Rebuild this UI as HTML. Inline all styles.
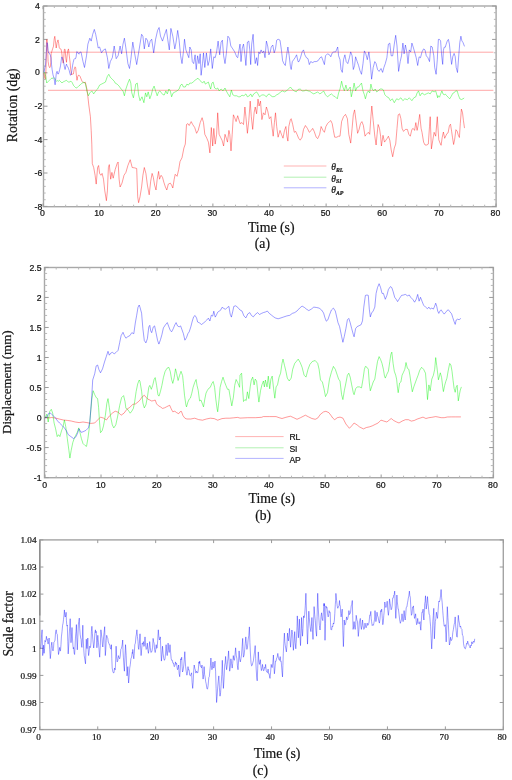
<!DOCTYPE html>
<html><head><meta charset="utf-8"><style>
html,body{margin:0;padding:0;background:#fff;}
body{width:512px;height:780px;overflow:hidden;}
svg{display:block;will-change:transform;}
text{fill:#141414;stroke:#141414;stroke-width:0.22px;}
</style></head><body>
<svg width="512" height="780" viewBox="0 0 512 780">
<rect x="43.50" y="6.00" width="452.60" height="200.70" fill="none" stroke="#a8a8a8" stroke-width="1.40"/>
<line x1="43.00" y1="206.70" x2="43.00" y2="203.50" stroke="#9a9a9a" stroke-width="1.00"/>
<line x1="43.00" y1="6.00" x2="43.00" y2="9.20" stroke="#9a9a9a" stroke-width="1.00"/>
<line x1="99.62" y1="206.70" x2="99.62" y2="203.50" stroke="#9a9a9a" stroke-width="1.00"/>
<line x1="99.62" y1="6.00" x2="99.62" y2="9.20" stroke="#9a9a9a" stroke-width="1.00"/>
<line x1="156.25" y1="206.70" x2="156.25" y2="203.50" stroke="#9a9a9a" stroke-width="1.00"/>
<line x1="156.25" y1="6.00" x2="156.25" y2="9.20" stroke="#9a9a9a" stroke-width="1.00"/>
<line x1="212.88" y1="206.70" x2="212.88" y2="203.50" stroke="#9a9a9a" stroke-width="1.00"/>
<line x1="212.88" y1="6.00" x2="212.88" y2="9.20" stroke="#9a9a9a" stroke-width="1.00"/>
<line x1="269.50" y1="206.70" x2="269.50" y2="203.50" stroke="#9a9a9a" stroke-width="1.00"/>
<line x1="269.50" y1="6.00" x2="269.50" y2="9.20" stroke="#9a9a9a" stroke-width="1.00"/>
<line x1="326.12" y1="206.70" x2="326.12" y2="203.50" stroke="#9a9a9a" stroke-width="1.00"/>
<line x1="326.12" y1="6.00" x2="326.12" y2="9.20" stroke="#9a9a9a" stroke-width="1.00"/>
<line x1="382.75" y1="206.70" x2="382.75" y2="203.50" stroke="#9a9a9a" stroke-width="1.00"/>
<line x1="382.75" y1="6.00" x2="382.75" y2="9.20" stroke="#9a9a9a" stroke-width="1.00"/>
<line x1="439.38" y1="206.70" x2="439.38" y2="203.50" stroke="#9a9a9a" stroke-width="1.00"/>
<line x1="439.38" y1="6.00" x2="439.38" y2="9.20" stroke="#9a9a9a" stroke-width="1.00"/>
<line x1="496.00" y1="206.70" x2="496.00" y2="203.50" stroke="#9a9a9a" stroke-width="1.00"/>
<line x1="496.00" y1="6.00" x2="496.00" y2="9.20" stroke="#9a9a9a" stroke-width="1.00"/>
<line x1="54.33" y1="206.70" x2="54.33" y2="204.70" stroke="#b8b8b8" stroke-width="1.00"/>
<line x1="54.33" y1="6.00" x2="54.33" y2="8.00" stroke="#b8b8b8" stroke-width="1.00"/>
<line x1="65.65" y1="206.70" x2="65.65" y2="204.70" stroke="#b8b8b8" stroke-width="1.00"/>
<line x1="65.65" y1="6.00" x2="65.65" y2="8.00" stroke="#b8b8b8" stroke-width="1.00"/>
<line x1="76.97" y1="206.70" x2="76.97" y2="204.70" stroke="#b8b8b8" stroke-width="1.00"/>
<line x1="76.97" y1="6.00" x2="76.97" y2="8.00" stroke="#b8b8b8" stroke-width="1.00"/>
<line x1="88.30" y1="206.70" x2="88.30" y2="204.70" stroke="#b8b8b8" stroke-width="1.00"/>
<line x1="88.30" y1="6.00" x2="88.30" y2="8.00" stroke="#b8b8b8" stroke-width="1.00"/>
<line x1="110.95" y1="206.70" x2="110.95" y2="204.70" stroke="#b8b8b8" stroke-width="1.00"/>
<line x1="110.95" y1="6.00" x2="110.95" y2="8.00" stroke="#b8b8b8" stroke-width="1.00"/>
<line x1="122.28" y1="206.70" x2="122.28" y2="204.70" stroke="#b8b8b8" stroke-width="1.00"/>
<line x1="122.28" y1="6.00" x2="122.28" y2="8.00" stroke="#b8b8b8" stroke-width="1.00"/>
<line x1="133.60" y1="206.70" x2="133.60" y2="204.70" stroke="#b8b8b8" stroke-width="1.00"/>
<line x1="133.60" y1="6.00" x2="133.60" y2="8.00" stroke="#b8b8b8" stroke-width="1.00"/>
<line x1="144.93" y1="206.70" x2="144.93" y2="204.70" stroke="#b8b8b8" stroke-width="1.00"/>
<line x1="144.93" y1="6.00" x2="144.93" y2="8.00" stroke="#b8b8b8" stroke-width="1.00"/>
<line x1="167.57" y1="206.70" x2="167.57" y2="204.70" stroke="#b8b8b8" stroke-width="1.00"/>
<line x1="167.57" y1="6.00" x2="167.57" y2="8.00" stroke="#b8b8b8" stroke-width="1.00"/>
<line x1="178.90" y1="206.70" x2="178.90" y2="204.70" stroke="#b8b8b8" stroke-width="1.00"/>
<line x1="178.90" y1="6.00" x2="178.90" y2="8.00" stroke="#b8b8b8" stroke-width="1.00"/>
<line x1="190.22" y1="206.70" x2="190.22" y2="204.70" stroke="#b8b8b8" stroke-width="1.00"/>
<line x1="190.22" y1="6.00" x2="190.22" y2="8.00" stroke="#b8b8b8" stroke-width="1.00"/>
<line x1="201.55" y1="206.70" x2="201.55" y2="204.70" stroke="#b8b8b8" stroke-width="1.00"/>
<line x1="201.55" y1="6.00" x2="201.55" y2="8.00" stroke="#b8b8b8" stroke-width="1.00"/>
<line x1="224.20" y1="206.70" x2="224.20" y2="204.70" stroke="#b8b8b8" stroke-width="1.00"/>
<line x1="224.20" y1="6.00" x2="224.20" y2="8.00" stroke="#b8b8b8" stroke-width="1.00"/>
<line x1="235.53" y1="206.70" x2="235.53" y2="204.70" stroke="#b8b8b8" stroke-width="1.00"/>
<line x1="235.53" y1="6.00" x2="235.53" y2="8.00" stroke="#b8b8b8" stroke-width="1.00"/>
<line x1="246.85" y1="206.70" x2="246.85" y2="204.70" stroke="#b8b8b8" stroke-width="1.00"/>
<line x1="246.85" y1="6.00" x2="246.85" y2="8.00" stroke="#b8b8b8" stroke-width="1.00"/>
<line x1="258.18" y1="206.70" x2="258.18" y2="204.70" stroke="#b8b8b8" stroke-width="1.00"/>
<line x1="258.18" y1="6.00" x2="258.18" y2="8.00" stroke="#b8b8b8" stroke-width="1.00"/>
<line x1="280.82" y1="206.70" x2="280.82" y2="204.70" stroke="#b8b8b8" stroke-width="1.00"/>
<line x1="280.82" y1="6.00" x2="280.82" y2="8.00" stroke="#b8b8b8" stroke-width="1.00"/>
<line x1="292.15" y1="206.70" x2="292.15" y2="204.70" stroke="#b8b8b8" stroke-width="1.00"/>
<line x1="292.15" y1="6.00" x2="292.15" y2="8.00" stroke="#b8b8b8" stroke-width="1.00"/>
<line x1="303.48" y1="206.70" x2="303.48" y2="204.70" stroke="#b8b8b8" stroke-width="1.00"/>
<line x1="303.48" y1="6.00" x2="303.48" y2="8.00" stroke="#b8b8b8" stroke-width="1.00"/>
<line x1="314.80" y1="206.70" x2="314.80" y2="204.70" stroke="#b8b8b8" stroke-width="1.00"/>
<line x1="314.80" y1="6.00" x2="314.80" y2="8.00" stroke="#b8b8b8" stroke-width="1.00"/>
<line x1="337.45" y1="206.70" x2="337.45" y2="204.70" stroke="#b8b8b8" stroke-width="1.00"/>
<line x1="337.45" y1="6.00" x2="337.45" y2="8.00" stroke="#b8b8b8" stroke-width="1.00"/>
<line x1="348.77" y1="206.70" x2="348.77" y2="204.70" stroke="#b8b8b8" stroke-width="1.00"/>
<line x1="348.77" y1="6.00" x2="348.77" y2="8.00" stroke="#b8b8b8" stroke-width="1.00"/>
<line x1="360.10" y1="206.70" x2="360.10" y2="204.70" stroke="#b8b8b8" stroke-width="1.00"/>
<line x1="360.10" y1="6.00" x2="360.10" y2="8.00" stroke="#b8b8b8" stroke-width="1.00"/>
<line x1="371.43" y1="206.70" x2="371.43" y2="204.70" stroke="#b8b8b8" stroke-width="1.00"/>
<line x1="371.43" y1="6.00" x2="371.43" y2="8.00" stroke="#b8b8b8" stroke-width="1.00"/>
<line x1="394.07" y1="206.70" x2="394.07" y2="204.70" stroke="#b8b8b8" stroke-width="1.00"/>
<line x1="394.07" y1="6.00" x2="394.07" y2="8.00" stroke="#b8b8b8" stroke-width="1.00"/>
<line x1="405.40" y1="206.70" x2="405.40" y2="204.70" stroke="#b8b8b8" stroke-width="1.00"/>
<line x1="405.40" y1="6.00" x2="405.40" y2="8.00" stroke="#b8b8b8" stroke-width="1.00"/>
<line x1="416.73" y1="206.70" x2="416.73" y2="204.70" stroke="#b8b8b8" stroke-width="1.00"/>
<line x1="416.73" y1="6.00" x2="416.73" y2="8.00" stroke="#b8b8b8" stroke-width="1.00"/>
<line x1="428.05" y1="206.70" x2="428.05" y2="204.70" stroke="#b8b8b8" stroke-width="1.00"/>
<line x1="428.05" y1="6.00" x2="428.05" y2="8.00" stroke="#b8b8b8" stroke-width="1.00"/>
<line x1="450.70" y1="206.70" x2="450.70" y2="204.70" stroke="#b8b8b8" stroke-width="1.00"/>
<line x1="450.70" y1="6.00" x2="450.70" y2="8.00" stroke="#b8b8b8" stroke-width="1.00"/>
<line x1="462.02" y1="206.70" x2="462.02" y2="204.70" stroke="#b8b8b8" stroke-width="1.00"/>
<line x1="462.02" y1="6.00" x2="462.02" y2="8.00" stroke="#b8b8b8" stroke-width="1.00"/>
<line x1="473.35" y1="206.70" x2="473.35" y2="204.70" stroke="#b8b8b8" stroke-width="1.00"/>
<line x1="473.35" y1="6.00" x2="473.35" y2="8.00" stroke="#b8b8b8" stroke-width="1.00"/>
<line x1="484.68" y1="206.70" x2="484.68" y2="204.70" stroke="#b8b8b8" stroke-width="1.00"/>
<line x1="484.68" y1="6.00" x2="484.68" y2="8.00" stroke="#b8b8b8" stroke-width="1.00"/>
<line x1="43.50" y1="6.00" x2="47.50" y2="6.00" stroke="#9a9a9a" stroke-width="1.00"/>
<line x1="496.10" y1="6.00" x2="492.10" y2="6.00" stroke="#9a9a9a" stroke-width="1.00"/>
<line x1="43.50" y1="39.40" x2="47.50" y2="39.40" stroke="#9a9a9a" stroke-width="1.00"/>
<line x1="496.10" y1="39.40" x2="492.10" y2="39.40" stroke="#9a9a9a" stroke-width="1.00"/>
<line x1="43.50" y1="72.80" x2="47.50" y2="72.80" stroke="#9a9a9a" stroke-width="1.00"/>
<line x1="496.10" y1="72.80" x2="492.10" y2="72.80" stroke="#9a9a9a" stroke-width="1.00"/>
<line x1="43.50" y1="106.20" x2="47.50" y2="106.20" stroke="#9a9a9a" stroke-width="1.00"/>
<line x1="496.10" y1="106.20" x2="492.10" y2="106.20" stroke="#9a9a9a" stroke-width="1.00"/>
<line x1="43.50" y1="139.60" x2="47.50" y2="139.60" stroke="#9a9a9a" stroke-width="1.00"/>
<line x1="496.10" y1="139.60" x2="492.10" y2="139.60" stroke="#9a9a9a" stroke-width="1.00"/>
<line x1="43.50" y1="173.00" x2="47.50" y2="173.00" stroke="#9a9a9a" stroke-width="1.00"/>
<line x1="496.10" y1="173.00" x2="492.10" y2="173.00" stroke="#9a9a9a" stroke-width="1.00"/>
<line x1="43.50" y1="206.40" x2="47.50" y2="206.40" stroke="#9a9a9a" stroke-width="1.00"/>
<line x1="496.10" y1="206.40" x2="492.10" y2="206.40" stroke="#9a9a9a" stroke-width="1.00"/>
<line x1="43.50" y1="12.68" x2="45.70" y2="12.68" stroke="#b8b8b8" stroke-width="1.00"/>
<line x1="496.10" y1="12.68" x2="493.90" y2="12.68" stroke="#b8b8b8" stroke-width="1.00"/>
<line x1="43.50" y1="19.36" x2="45.70" y2="19.36" stroke="#b8b8b8" stroke-width="1.00"/>
<line x1="496.10" y1="19.36" x2="493.90" y2="19.36" stroke="#b8b8b8" stroke-width="1.00"/>
<line x1="43.50" y1="26.04" x2="45.70" y2="26.04" stroke="#b8b8b8" stroke-width="1.00"/>
<line x1="496.10" y1="26.04" x2="493.90" y2="26.04" stroke="#b8b8b8" stroke-width="1.00"/>
<line x1="43.50" y1="32.72" x2="45.70" y2="32.72" stroke="#b8b8b8" stroke-width="1.00"/>
<line x1="496.10" y1="32.72" x2="493.90" y2="32.72" stroke="#b8b8b8" stroke-width="1.00"/>
<line x1="43.50" y1="46.08" x2="45.70" y2="46.08" stroke="#b8b8b8" stroke-width="1.00"/>
<line x1="496.10" y1="46.08" x2="493.90" y2="46.08" stroke="#b8b8b8" stroke-width="1.00"/>
<line x1="43.50" y1="52.76" x2="45.70" y2="52.76" stroke="#b8b8b8" stroke-width="1.00"/>
<line x1="496.10" y1="52.76" x2="493.90" y2="52.76" stroke="#b8b8b8" stroke-width="1.00"/>
<line x1="43.50" y1="59.44" x2="45.70" y2="59.44" stroke="#b8b8b8" stroke-width="1.00"/>
<line x1="496.10" y1="59.44" x2="493.90" y2="59.44" stroke="#b8b8b8" stroke-width="1.00"/>
<line x1="43.50" y1="66.12" x2="45.70" y2="66.12" stroke="#b8b8b8" stroke-width="1.00"/>
<line x1="496.10" y1="66.12" x2="493.90" y2="66.12" stroke="#b8b8b8" stroke-width="1.00"/>
<line x1="43.50" y1="79.48" x2="45.70" y2="79.48" stroke="#b8b8b8" stroke-width="1.00"/>
<line x1="496.10" y1="79.48" x2="493.90" y2="79.48" stroke="#b8b8b8" stroke-width="1.00"/>
<line x1="43.50" y1="86.16" x2="45.70" y2="86.16" stroke="#b8b8b8" stroke-width="1.00"/>
<line x1="496.10" y1="86.16" x2="493.90" y2="86.16" stroke="#b8b8b8" stroke-width="1.00"/>
<line x1="43.50" y1="92.84" x2="45.70" y2="92.84" stroke="#b8b8b8" stroke-width="1.00"/>
<line x1="496.10" y1="92.84" x2="493.90" y2="92.84" stroke="#b8b8b8" stroke-width="1.00"/>
<line x1="43.50" y1="99.52" x2="45.70" y2="99.52" stroke="#b8b8b8" stroke-width="1.00"/>
<line x1="496.10" y1="99.52" x2="493.90" y2="99.52" stroke="#b8b8b8" stroke-width="1.00"/>
<line x1="43.50" y1="112.88" x2="45.70" y2="112.88" stroke="#b8b8b8" stroke-width="1.00"/>
<line x1="496.10" y1="112.88" x2="493.90" y2="112.88" stroke="#b8b8b8" stroke-width="1.00"/>
<line x1="43.50" y1="119.56" x2="45.70" y2="119.56" stroke="#b8b8b8" stroke-width="1.00"/>
<line x1="496.10" y1="119.56" x2="493.90" y2="119.56" stroke="#b8b8b8" stroke-width="1.00"/>
<line x1="43.50" y1="126.24" x2="45.70" y2="126.24" stroke="#b8b8b8" stroke-width="1.00"/>
<line x1="496.10" y1="126.24" x2="493.90" y2="126.24" stroke="#b8b8b8" stroke-width="1.00"/>
<line x1="43.50" y1="132.92" x2="45.70" y2="132.92" stroke="#b8b8b8" stroke-width="1.00"/>
<line x1="496.10" y1="132.92" x2="493.90" y2="132.92" stroke="#b8b8b8" stroke-width="1.00"/>
<line x1="43.50" y1="146.28" x2="45.70" y2="146.28" stroke="#b8b8b8" stroke-width="1.00"/>
<line x1="496.10" y1="146.28" x2="493.90" y2="146.28" stroke="#b8b8b8" stroke-width="1.00"/>
<line x1="43.50" y1="152.96" x2="45.70" y2="152.96" stroke="#b8b8b8" stroke-width="1.00"/>
<line x1="496.10" y1="152.96" x2="493.90" y2="152.96" stroke="#b8b8b8" stroke-width="1.00"/>
<line x1="43.50" y1="159.64" x2="45.70" y2="159.64" stroke="#b8b8b8" stroke-width="1.00"/>
<line x1="496.10" y1="159.64" x2="493.90" y2="159.64" stroke="#b8b8b8" stroke-width="1.00"/>
<line x1="43.50" y1="166.32" x2="45.70" y2="166.32" stroke="#b8b8b8" stroke-width="1.00"/>
<line x1="496.10" y1="166.32" x2="493.90" y2="166.32" stroke="#b8b8b8" stroke-width="1.00"/>
<line x1="43.50" y1="179.68" x2="45.70" y2="179.68" stroke="#b8b8b8" stroke-width="1.00"/>
<line x1="496.10" y1="179.68" x2="493.90" y2="179.68" stroke="#b8b8b8" stroke-width="1.00"/>
<line x1="43.50" y1="186.36" x2="45.70" y2="186.36" stroke="#b8b8b8" stroke-width="1.00"/>
<line x1="496.10" y1="186.36" x2="493.90" y2="186.36" stroke="#b8b8b8" stroke-width="1.00"/>
<line x1="43.50" y1="193.04" x2="45.70" y2="193.04" stroke="#b8b8b8" stroke-width="1.00"/>
<line x1="496.10" y1="193.04" x2="493.90" y2="193.04" stroke="#b8b8b8" stroke-width="1.00"/>
<line x1="43.50" y1="199.72" x2="45.70" y2="199.72" stroke="#b8b8b8" stroke-width="1.00"/>
<line x1="496.10" y1="199.72" x2="493.90" y2="199.72" stroke="#b8b8b8" stroke-width="1.00"/>
<polyline points="48.0,52.2 493.4,52.2" fill="none" stroke="#ff0000" stroke-width="1.00" stroke-opacity="0.35" stroke-linejoin="round" />
<polyline points="48.0,90.3 493.4,90.3" fill="none" stroke="#ff0000" stroke-width="1.00" stroke-opacity="0.35" stroke-linejoin="round" />
<polyline points="44.0,73.1 44.9,78.5 45.6,78.9 46.1,65.9 46.5,39.9 47.2,39.4 47.6,48.0 48.1,61.4 48.8,65.9 49.7,67.7 50.3,66.8 50.8,62.3 51.2,53.3 51.8,51.5 52.6,48.9 53.5,46.2 54.2,39.0 54.8,36.3 55.4,40.8 56.2,48.0 57.1,42.6 58.0,39.9 58.7,43.5 59.3,48.0 60.2,48.9 61.1,49.3 61.7,52.4 62.4,58.7 63.2,63.2 63.8,56.9 64.4,49.3 65.1,49.3 65.9,58.7 66.5,62.3 67.1,56.0 67.8,50.6 68.5,48.9 69.2,55.1 70.1,62.3 70.7,69.5 71.6,74.9 72.3,74.0 73.4,74.0 74.1,69.5 75.0,66.8 75.7,67.7 76.4,75.8 77.0,80.3 77.7,76.7 78.6,74.9 80.0,76.3 82.0,81.2 83.9,83.1 85.3,82.1 86.9,89.0 87.9,96.8 88.8,105.0 90.4,116.7 91.2,130.4 91.8,144.1 92.3,163.6 93.7,167.5 95.1,175.3 96.2,184.1 97.6,167.5 98.6,165.5 99.6,173.4 100.9,175.3 102.1,173.4 103.5,179.2 104.8,190.9 106.4,200.7 107.4,190.9 108.4,167.5 109.3,164.6 110.7,179.2 111.9,172.4 113.2,178.2 115.2,169.5 117.1,163.6 118.1,162.0 119.1,179.2 120.1,187.0 122.0,183.1 124.0,175.3 125.9,172.4 127.9,165.5 130.2,159.7 132.2,167.5 134.7,167.9 136.7,168.5 137.7,196.8 138.6,202.7 140.0,196.8 141.6,187.0 142.9,175.3 144.3,167.5 145.9,173.4 147.4,185.1 149.2,194.8 150.7,181.2 152.1,173.4 153.3,177.3 154.6,185.1 156.0,190.0 157.2,179.2 158.6,171.4 159.5,179.2 161.1,175.3 162.5,177.3 163.8,182.1 165.4,187.0 166.8,190.0 168.3,184.1 170.3,183.1 171.6,185.1 172.8,188.0 174.2,179.2 175.2,174.3 177.1,176.3 178.7,169.5 180.0,161.6 182.0,157.7 183.9,148.0 185.3,144.1 186.5,124.5 187.9,123.6 189.2,125.5 191.2,121.6 192.7,124.5 194.7,127.5 196.6,133.3 198.2,130.4 200.2,122.6 202.1,117.7 203.5,122.6 204.8,134.3 206.8,138.2 208.4,142.1 209.9,152.9 211.3,127.5 212.7,146.0 213.8,128.4 215.2,144.1 216.6,134.3 217.7,112.8 219.1,134.3 220.5,137.2 222.0,140.2 223.6,146.0 225.0,134.3 226.3,138.2 227.5,142.1 228.9,130.4 229.8,134.3 231.0,150.9 232.2,134.3 233.4,114.8 234.7,117.7 236.1,121.6 237.7,115.7 240.0,123.6 242.0,122.6 243.5,124.5 244.9,107.0 245.9,116.7 247.4,133.3 248.8,120.6 250.2,101.1 251.3,116.7 252.7,129.4 254.1,112.8 255.2,107.0 256.6,113.8 258.0,99.1 259.1,106.0 260.5,101.1 261.9,119.6 263.4,112.8 265.0,114.8 266.4,107.0 267.7,110.9 269.3,118.7 270.9,116.7 272.2,128.4 273.2,136.2 274.4,122.6 275.5,112.8 276.7,126.5 278.1,137.2 280.0,130.4 281.4,134.3 283.0,138.2 284.5,130.4 285.9,126.5 286.9,136.2 287.9,141.1 288.8,126.5 290.4,119.6 291.2,118.7 292.7,124.5 294.3,132.3 295.7,131.4 297.0,134.3 298.6,138.2 300.2,140.2 302.1,137.2 303.5,129.4 305.4,125.5 307.4,128.4 309.3,132.3 311.3,130.4 312.7,128.4 314.2,131.4 316.2,137.2 317.7,138.6 319.7,134.3 321.1,126.5 323.0,130.4 324.4,132.3 325.9,126.5 327.5,123.6 329.5,121.6 330.8,120.6 332.2,123.6 333.4,130.4 334.7,137.2 336.7,137.2 338.6,136.2 340.0,136.2 341.6,121.6 343.5,116.7 345.5,114.4 347.4,118.7 348.8,134.3 350.7,143.1 352.1,128.4 353.3,114.8 354.6,109.9 356.0,120.6 357.6,133.3 359.1,129.4 360.5,123.6 361.9,121.6 363.4,125.5 365.0,136.2 366.4,134.3 368.3,132.3 369.7,134.3 370.9,116.7 371.8,106.0 373.2,120.6 374.8,136.2 376.1,145.0 377.1,134.3 378.1,124.5 379.5,128.4 380.6,136.2 381.4,146.0 383.0,135.3 384.5,142.1 385.9,140.2 387.3,138.2 388.4,136.2 389.8,140.2 391.2,149.9 392.7,156.8 394.3,148.0 395.7,144.1 397.0,128.4 398.2,114.8 399.6,113.8 400.9,118.7 402.1,128.4 403.5,131.4 405.4,129.4 407.4,129.4 408.8,134.3 410.3,136.2 411.9,129.4 413.2,128.4 414.6,130.4 415.8,122.6 417.1,130.4 418.1,125.5 419.7,114.4 421.1,128.4 422.0,132.3 423.6,142.1 425.0,145.0 426.9,145.0 428.3,144.1 429.5,126.5 430.2,116.7 431.4,148.9 432.8,140.2 434.1,132.3 435.7,136.2 437.3,116.7 438.0,128.1 438.8,139.8 440.0,143.0 441.1,145.3 442.2,137.5 443.4,132.0 444.7,138.3 445.8,135.9 446.9,133.6 448.1,132.8 449.4,125.8 450.5,124.2 451.6,131.2 452.5,137.5 453.6,144.5 454.7,139.1 455.9,129.7 457.2,131.2 458.3,135.2 459.4,137.5 460.3,123.4 461.4,109.1 462.5,112.5 463.4,120.3 464.5,128.1" fill="none" stroke="#ff0000" stroke-width="1.00" stroke-opacity="0.40" stroke-linejoin="round" />
<polyline points="44.0,72.2 44.9,73.1 45.8,76.7 46.7,83.0 47.6,82.1 48.5,81.2 49.4,80.3 50.3,79.4 51.2,78.5 52.1,78.0 53.0,78.5 53.9,77.6 54.8,78.5 55.7,80.3 56.6,81.2 57.5,80.7 58.4,81.2 59.3,80.3 60.2,81.2 61.1,82.1 62.0,83.0 62.9,82.1 63.8,81.6 64.7,81.2 65.6,80.7 66.5,80.3 67.4,81.2 68.3,82.1 69.2,82.1 70.1,81.6 71.0,81.2 71.9,82.1 72.8,83.9 73.7,85.7 74.6,86.6 75.5,87.5 76.4,87.9 77.3,87.5 78.2,86.6 79.0,85.7 80.0,85.1 82.0,83.1 83.9,82.1 85.3,83.1 86.9,90.9 88.4,95.8 89.8,92.9 91.8,90.9 93.7,93.9 95.7,90.9 97.6,89.0 99.6,85.1 101.5,84.1 103.5,83.1 105.4,82.1 107.4,76.3 108.8,74.3 110.3,77.3 112.3,79.2 114.2,81.2 115.2,83.1 117.1,84.1 119.1,86.1 121.1,89.0 123.0,90.9 124.4,95.8 125.9,89.0 127.9,83.1 129.5,79.2 130.8,83.1 131.8,92.9 133.4,97.8 134.7,90.9 135.7,84.1 137.3,83.1 138.6,94.8 140.0,100.7 142.0,96.8 143.9,102.7 145.5,92.9 146.8,96.8 148.2,91.9 149.8,98.8 151.3,94.8 152.7,89.0 154.1,86.1 155.6,90.9 157.2,95.8 158.6,91.9 159.9,90.9 161.5,92.9 163.0,94.8 164.4,94.8 165.8,90.9 167.3,93.9 168.9,89.0 170.3,90.9 171.6,96.8 173.2,92.9 175.2,91.9 177.1,90.9 179.1,89.0 180.6,85.1 182.0,84.1 183.4,87.0 185.3,87.0 186.9,84.1 188.4,85.1 189.8,83.1 191.8,83.1 193.1,82.1 195.1,80.2 196.6,79.2 198.0,78.2 199.6,80.2 200.9,81.2 202.5,83.1 204.1,81.2 205.4,84.1 206.8,83.1 208.4,82.1 209.9,87.0 210.7,89.0 211.9,83.1 213.2,82.1 214.6,88.0 216.2,89.0 217.7,88.0 219.1,90.9 221.1,89.0 223.0,90.9 225.0,88.0 226.3,90.9 227.9,93.9 229.8,96.8 231.4,90.0 232.8,94.8 234.7,95.8 236.7,95.8 238.6,96.8 240.0,96.8 242.0,95.2 243.9,95.8 245.9,93.9 247.4,96.8 249.4,95.8 250.7,93.9 252.1,96.8 253.7,93.9 255.2,92.9 256.6,91.9 258.0,93.9 259.5,96.8 261.5,95.2 263.0,94.8 264.4,95.2 266.4,96.8 267.7,94.8 269.3,93.9 270.9,95.8 272.8,96.8 274.8,96.4 276.7,94.8 278.7,93.9 280.6,91.9 282.6,90.9 284.5,91.9 286.5,90.9 288.4,89.0 290.4,87.0 292.3,89.4 294.3,90.9 296.2,91.9 298.2,89.4 300.2,89.0 302.1,90.9 304.1,90.9 306.0,90.0 308.0,90.9 309.9,91.3 311.9,92.9 313.8,93.9 315.8,92.9 317.7,91.9 319.7,93.9 321.6,92.9 323.6,90.9 325.5,94.8 327.5,96.8 329.5,95.2 331.4,93.9 333.4,95.8 335.3,96.8 337.3,98.8 338.6,92.9 340.0,89.0 341.6,81.2 342.9,87.0 344.3,90.9 345.9,85.1 347.4,90.9 348.8,89.0 350.2,87.0 351.3,96.8 352.7,90.9 354.1,83.1 355.6,90.9 357.2,87.0 358.6,87.0 359.9,85.1 361.5,83.1 363.0,90.9 364.4,94.8 365.4,98.8 367.0,92.9 368.3,90.9 369.7,92.9 370.9,84.1 372.2,89.0 373.6,90.9 375.2,89.0 376.7,91.9 378.1,90.9 380.0,89.0 382.0,89.0 383.4,90.0 384.9,94.8 386.9,96.8 388.8,97.8 390.4,100.7 392.3,98.8 394.3,102.7 396.6,98.8 398.6,99.7 400.9,97.8 402.9,100.7 404.8,98.8 407.4,99.7 409.3,97.8 411.9,100.7 413.8,97.8 415.8,96.8 417.1,92.9 418.5,90.9 420.1,95.8 422.0,92.9 424.4,94.8 426.3,93.9 428.3,92.9 430.2,93.9 432.2,90.9 434.1,91.9 435.7,90.9 437.7,97.8 438.0,95.6 439.5,97.2 440.6,94.1 441.9,90.9 443.1,94.1 444.2,94.8 445.3,94.1 446.6,95.6 448.1,97.2 449.7,98.8 451.2,96.4 452.8,93.3 454.4,92.5 455.6,90.9 457.2,90.9 458.3,94.8 459.8,98.8 461.4,99.5 463.0,98.8 464.2,98.0" fill="none" stroke="#00f000" stroke-width="1.00" stroke-opacity="0.42" stroke-linejoin="round" />
<polyline points="44.0,72.2 44.9,67.7 45.6,64.1 46.3,53.3 47.0,42.6 47.6,44.4 48.1,50.6 48.5,52.9 49.4,53.3 50.3,55.1 51.0,57.8 51.5,64.1 52.1,69.5 53.0,74.9 53.9,77.6 54.5,81.2 55.1,84.8 55.7,79.4 56.3,73.1 57.1,71.3 57.8,74.0 58.4,74.0 59.0,72.2 59.7,69.5 60.5,65.9 61.1,61.4 61.7,56.9 62.4,57.8 63.2,60.5 63.8,63.2 64.4,66.8 65.1,69.5 65.9,65.9 66.5,64.1 67.1,65.9 67.8,66.8 68.5,68.6 69.2,70.4 69.8,73.1 70.5,75.3 71.2,74.0 71.9,70.4 72.5,65.9 73.2,62.3 73.9,59.6 74.6,58.7 75.5,58.7 76.1,56.9 76.8,51.5 77.5,52.0 78.2,53.3 79.0,54.2 79.1,52.9 81.0,51.9 83.0,61.6 84.5,67.5 86.5,55.8 87.9,44.1 89.8,38.2 91.2,41.1 92.7,34.3 94.3,29.4 95.7,34.3 97.0,41.1 98.2,48.0 99.6,47.0 101.5,52.9 103.5,49.9 105.4,48.9 107.4,57.7 108.8,68.5 110.3,61.6 112.3,57.7 114.2,46.0 116.2,58.7 118.1,55.8 120.1,46.0 121.6,53.8 123.0,44.1 124.4,38.2 125.9,48.0 127.9,63.6 129.5,68.5 130.8,59.7 132.8,42.1 134.7,53.8 136.7,64.6 140.0,44.1 141.6,34.3 142.9,36.2 144.3,48.9 145.9,38.2 147.4,40.2 148.8,47.0 150.2,41.1 151.7,39.2 153.7,52.9 155.6,39.2 157.6,30.4 159.1,27.5 160.5,36.2 162.5,41.1 164.4,35.3 166.4,29.4 167.7,39.2 169.3,49.9 170.9,28.4 172.8,36.2 174.8,48.9 176.1,42.1 177.7,30.4 179.1,40.2 180.6,55.8 182.0,63.6 183.4,51.9 184.5,39.2 185.9,49.9 187.3,53.8 188.8,57.7 189.8,47.0 191.2,49.9 192.3,61.6 193.7,63.6 195.1,54.8 196.2,69.5 197.6,55.8 199.0,63.6 200.2,53.8 201.1,75.3 202.5,63.6 203.5,52.9 204.8,67.5 206.4,52.9 208.0,65.5 209.3,60.7 210.7,48.9 212.3,68.5 213.8,56.8 215.2,57.7 216.6,51.9 218.1,41.1 219.7,54.8 221.1,42.1 222.4,40.2 223.6,55.8 225.0,63.6 226.3,53.8 227.9,36.2 229.5,38.2 230.8,46.0 232.8,48.9 234.7,51.9 236.7,56.8 237.7,57.7 240.0,44.1 241.0,61.6 242.3,48.0 243.5,44.1 244.9,54.8 245.9,65.5 247.4,42.1 248.8,41.1 249.8,49.9 250.7,64.6 251.7,44.1 253.1,34.3 254.1,51.9 255.2,63.6 256.6,57.7 257.6,65.5 258.8,51.9 259.9,53.8 261.1,49.9 262.5,52.9 263.8,50.9 265.0,57.7 266.4,41.1 267.7,46.0 268.9,54.8 270.3,51.9 271.2,47.0 272.8,45.0 274.2,52.9 275.5,48.9 276.7,40.2 278.1,39.2 280.0,40.2 281.4,49.9 282.6,60.7 283.9,63.6 285.3,65.5 286.5,55.8 287.9,47.0 289.2,55.8 290.4,66.5 291.2,69.5 292.3,61.6 293.7,59.7 295.1,57.7 296.6,54.8 298.0,61.6 299.0,61.6 300.5,57.7 302.1,51.9 303.5,49.9 304.8,54.8 306.4,57.7 308.0,58.7 309.3,64.6 310.7,61.6 312.7,62.6 314.2,61.6 316.2,61.6 318.1,60.7 320.1,57.7 321.6,56.8 323.0,60.7 324.4,64.6 325.5,55.8 327.5,53.8 329.5,54.8 330.8,56.8 332.2,52.9 333.8,51.9 335.7,51.9 337.7,47.0 338.6,55.8 340.0,59.7 341.0,69.5 342.3,72.4 343.5,59.7 344.9,54.8 346.2,61.6 347.8,63.6 349.4,57.7 350.7,51.9 352.1,55.8 353.3,69.5 354.6,65.5 355.6,56.8 357.2,61.6 358.6,65.5 359.9,70.4 361.5,74.3 363.0,63.6 364.4,50.9 365.8,53.8 367.3,59.7 368.9,51.9 370.3,63.6 371.6,79.2 373.2,67.5 374.8,61.6 376.1,63.6 377.5,69.5 379.1,71.4 381.0,68.5 382.6,72.4 383.9,67.5 385.3,63.6 386.9,57.7 388.4,44.1 389.8,43.1 391.2,55.8 392.7,55.8 394.3,44.1 395.7,35.3 397.0,46.0 398.6,71.4 400.2,61.6 401.5,55.8 402.9,43.1 404.1,53.8 405.4,45.0 406.8,51.9 408.0,63.6 409.3,49.9 410.7,51.9 411.9,43.1 413.2,47.0 414.6,51.9 416.2,57.7 417.7,65.5 419.1,56.8 420.5,57.7 422.0,51.9 423.6,48.9 425.0,49.9 426.3,55.8 427.9,57.7 429.5,61.6 430.8,46.0 432.2,47.0 433.8,55.8 434.7,67.5 436.1,74.3 437.3,59.7 437.5,55.0 438.4,39.4 439.5,39.4 440.6,40.9 441.6,55.0 442.7,64.4 443.4,50.3 444.2,47.2 445.3,47.2 446.2,44.1 447.3,40.9 448.4,39.4 449.4,44.1 450.5,55.0 451.6,64.4 452.8,56.6 454.1,53.4 455.2,56.6 456.2,67.5 457.5,72.5 458.8,55.0 459.8,42.5 460.9,36.2 461.9,40.9 463.0,42.5 464.5,46.4" fill="none" stroke="#0000ff" stroke-width="1.00" stroke-opacity="0.38" stroke-linejoin="round" />
<polyline points="283.8,166.0 326.4,166.0" fill="none" stroke="#ff0000" stroke-width="1.00" stroke-opacity="0.30" stroke-linejoin="round" />
<polyline points="283.8,177.2 326.4,177.2" fill="none" stroke="#00d000" stroke-width="1.00" stroke-opacity="0.30" stroke-linejoin="round" />
<polyline points="283.8,187.8 326.4,187.8" fill="none" stroke="#0000ff" stroke-width="1.00" stroke-opacity="0.30" stroke-linejoin="round" />
<text x="331.2" y="170.30" font-family="Liberation Serif" font-style="italic" font-size="9.6">&#952;<tspan font-size="5.8" dy="1.4" font-weight="bold">RL</tspan></text>
<text x="331.2" y="181.60" font-family="Liberation Serif" font-style="italic" font-size="9.6">&#952;<tspan font-size="5.8" dy="1.4" font-weight="bold">SI</tspan></text>
<text x="331.2" y="193.10" font-family="Liberation Serif" font-style="italic" font-size="9.6">&#952;<tspan font-size="5.8" dy="1.4" font-weight="bold">AP</tspan></text>
<text x="35.00" y="8.70" font-family="Liberation Sans" font-size="8.70" text-anchor="start" >4</text>
<text x="35.00" y="42.60" font-family="Liberation Sans" font-size="8.70" text-anchor="start" >2</text>
<text x="35.00" y="75.40" font-family="Liberation Sans" font-size="8.70" text-anchor="start" >0</text>
<text x="34.60" y="109.40" font-family="Liberation Sans" font-size="8.70" text-anchor="start" >-2</text>
<text x="34.60" y="143.00" font-family="Liberation Sans" font-size="8.70" text-anchor="start" >-4</text>
<text x="34.60" y="176.40" font-family="Liberation Sans" font-size="8.70" text-anchor="start" >-6</text>
<text x="34.60" y="209.60" font-family="Liberation Sans" font-size="8.70" text-anchor="start" >-8</text>
<text x="42.40" y="216.30" font-family="Liberation Sans" font-size="8.70" text-anchor="middle" >0</text>
<text x="99.03" y="216.30" font-family="Liberation Sans" font-size="8.70" text-anchor="middle" >10</text>
<text x="155.65" y="216.30" font-family="Liberation Sans" font-size="8.70" text-anchor="middle" >20</text>
<text x="212.28" y="216.30" font-family="Liberation Sans" font-size="8.70" text-anchor="middle" >30</text>
<text x="268.90" y="216.30" font-family="Liberation Sans" font-size="8.70" text-anchor="middle" >40</text>
<text x="325.52" y="216.30" font-family="Liberation Sans" font-size="8.70" text-anchor="middle" >50</text>
<text x="382.15" y="216.30" font-family="Liberation Sans" font-size="8.70" text-anchor="middle" >60</text>
<text x="438.77" y="216.30" font-family="Liberation Sans" font-size="8.70" text-anchor="middle" >70</text>
<text x="495.40" y="216.30" font-family="Liberation Sans" font-size="8.70" text-anchor="middle" >80</text>
<text x="271.20" y="231.80" font-family="Liberation Serif" font-size="13.80" text-anchor="middle" >Time (s)</text>
<text x="262.40" y="248.00" font-family="Liberation Serif" font-size="13.60" text-anchor="middle" >(a)</text>
<text x="0.00" y="0.00" font-family="Liberation Serif" font-size="13.80" text-anchor="middle" transform="translate(17.3,105.3) rotate(-90)">Rotation (dg)</text>
<rect x="44.50" y="267.50" width="448.90" height="210.20" fill="none" stroke="#a8a8a8" stroke-width="1.40"/>
<line x1="45.00" y1="477.70" x2="45.00" y2="474.50" stroke="#9a9a9a" stroke-width="1.00"/>
<line x1="45.00" y1="267.50" x2="45.00" y2="270.70" stroke="#9a9a9a" stroke-width="1.00"/>
<line x1="101.03" y1="477.70" x2="101.03" y2="474.50" stroke="#9a9a9a" stroke-width="1.00"/>
<line x1="101.03" y1="267.50" x2="101.03" y2="270.70" stroke="#9a9a9a" stroke-width="1.00"/>
<line x1="157.05" y1="477.70" x2="157.05" y2="474.50" stroke="#9a9a9a" stroke-width="1.00"/>
<line x1="157.05" y1="267.50" x2="157.05" y2="270.70" stroke="#9a9a9a" stroke-width="1.00"/>
<line x1="213.07" y1="477.70" x2="213.07" y2="474.50" stroke="#9a9a9a" stroke-width="1.00"/>
<line x1="213.07" y1="267.50" x2="213.07" y2="270.70" stroke="#9a9a9a" stroke-width="1.00"/>
<line x1="269.10" y1="477.70" x2="269.10" y2="474.50" stroke="#9a9a9a" stroke-width="1.00"/>
<line x1="269.10" y1="267.50" x2="269.10" y2="270.70" stroke="#9a9a9a" stroke-width="1.00"/>
<line x1="325.12" y1="477.70" x2="325.12" y2="474.50" stroke="#9a9a9a" stroke-width="1.00"/>
<line x1="325.12" y1="267.50" x2="325.12" y2="270.70" stroke="#9a9a9a" stroke-width="1.00"/>
<line x1="381.15" y1="477.70" x2="381.15" y2="474.50" stroke="#9a9a9a" stroke-width="1.00"/>
<line x1="381.15" y1="267.50" x2="381.15" y2="270.70" stroke="#9a9a9a" stroke-width="1.00"/>
<line x1="437.18" y1="477.70" x2="437.18" y2="474.50" stroke="#9a9a9a" stroke-width="1.00"/>
<line x1="437.18" y1="267.50" x2="437.18" y2="270.70" stroke="#9a9a9a" stroke-width="1.00"/>
<line x1="493.20" y1="477.70" x2="493.20" y2="474.50" stroke="#9a9a9a" stroke-width="1.00"/>
<line x1="493.20" y1="267.50" x2="493.20" y2="270.70" stroke="#9a9a9a" stroke-width="1.00"/>
<line x1="56.20" y1="477.70" x2="56.20" y2="475.70" stroke="#b8b8b8" stroke-width="1.00"/>
<line x1="56.20" y1="267.50" x2="56.20" y2="269.50" stroke="#b8b8b8" stroke-width="1.00"/>
<line x1="67.41" y1="477.70" x2="67.41" y2="475.70" stroke="#b8b8b8" stroke-width="1.00"/>
<line x1="67.41" y1="267.50" x2="67.41" y2="269.50" stroke="#b8b8b8" stroke-width="1.00"/>
<line x1="78.61" y1="477.70" x2="78.61" y2="475.70" stroke="#b8b8b8" stroke-width="1.00"/>
<line x1="78.61" y1="267.50" x2="78.61" y2="269.50" stroke="#b8b8b8" stroke-width="1.00"/>
<line x1="89.82" y1="477.70" x2="89.82" y2="475.70" stroke="#b8b8b8" stroke-width="1.00"/>
<line x1="89.82" y1="267.50" x2="89.82" y2="269.50" stroke="#b8b8b8" stroke-width="1.00"/>
<line x1="112.23" y1="477.70" x2="112.23" y2="475.70" stroke="#b8b8b8" stroke-width="1.00"/>
<line x1="112.23" y1="267.50" x2="112.23" y2="269.50" stroke="#b8b8b8" stroke-width="1.00"/>
<line x1="123.44" y1="477.70" x2="123.44" y2="475.70" stroke="#b8b8b8" stroke-width="1.00"/>
<line x1="123.44" y1="267.50" x2="123.44" y2="269.50" stroke="#b8b8b8" stroke-width="1.00"/>
<line x1="134.64" y1="477.70" x2="134.64" y2="475.70" stroke="#b8b8b8" stroke-width="1.00"/>
<line x1="134.64" y1="267.50" x2="134.64" y2="269.50" stroke="#b8b8b8" stroke-width="1.00"/>
<line x1="145.84" y1="477.70" x2="145.84" y2="475.70" stroke="#b8b8b8" stroke-width="1.00"/>
<line x1="145.84" y1="267.50" x2="145.84" y2="269.50" stroke="#b8b8b8" stroke-width="1.00"/>
<line x1="168.25" y1="477.70" x2="168.25" y2="475.70" stroke="#b8b8b8" stroke-width="1.00"/>
<line x1="168.25" y1="267.50" x2="168.25" y2="269.50" stroke="#b8b8b8" stroke-width="1.00"/>
<line x1="179.46" y1="477.70" x2="179.46" y2="475.70" stroke="#b8b8b8" stroke-width="1.00"/>
<line x1="179.46" y1="267.50" x2="179.46" y2="269.50" stroke="#b8b8b8" stroke-width="1.00"/>
<line x1="190.66" y1="477.70" x2="190.66" y2="475.70" stroke="#b8b8b8" stroke-width="1.00"/>
<line x1="190.66" y1="267.50" x2="190.66" y2="269.50" stroke="#b8b8b8" stroke-width="1.00"/>
<line x1="201.87" y1="477.70" x2="201.87" y2="475.70" stroke="#b8b8b8" stroke-width="1.00"/>
<line x1="201.87" y1="267.50" x2="201.87" y2="269.50" stroke="#b8b8b8" stroke-width="1.00"/>
<line x1="224.28" y1="477.70" x2="224.28" y2="475.70" stroke="#b8b8b8" stroke-width="1.00"/>
<line x1="224.28" y1="267.50" x2="224.28" y2="269.50" stroke="#b8b8b8" stroke-width="1.00"/>
<line x1="235.48" y1="477.70" x2="235.48" y2="475.70" stroke="#b8b8b8" stroke-width="1.00"/>
<line x1="235.48" y1="267.50" x2="235.48" y2="269.50" stroke="#b8b8b8" stroke-width="1.00"/>
<line x1="246.69" y1="477.70" x2="246.69" y2="475.70" stroke="#b8b8b8" stroke-width="1.00"/>
<line x1="246.69" y1="267.50" x2="246.69" y2="269.50" stroke="#b8b8b8" stroke-width="1.00"/>
<line x1="257.89" y1="477.70" x2="257.89" y2="475.70" stroke="#b8b8b8" stroke-width="1.00"/>
<line x1="257.89" y1="267.50" x2="257.89" y2="269.50" stroke="#b8b8b8" stroke-width="1.00"/>
<line x1="280.30" y1="477.70" x2="280.30" y2="475.70" stroke="#b8b8b8" stroke-width="1.00"/>
<line x1="280.30" y1="267.50" x2="280.30" y2="269.50" stroke="#b8b8b8" stroke-width="1.00"/>
<line x1="291.51" y1="477.70" x2="291.51" y2="475.70" stroke="#b8b8b8" stroke-width="1.00"/>
<line x1="291.51" y1="267.50" x2="291.51" y2="269.50" stroke="#b8b8b8" stroke-width="1.00"/>
<line x1="302.72" y1="477.70" x2="302.72" y2="475.70" stroke="#b8b8b8" stroke-width="1.00"/>
<line x1="302.72" y1="267.50" x2="302.72" y2="269.50" stroke="#b8b8b8" stroke-width="1.00"/>
<line x1="313.92" y1="477.70" x2="313.92" y2="475.70" stroke="#b8b8b8" stroke-width="1.00"/>
<line x1="313.92" y1="267.50" x2="313.92" y2="269.50" stroke="#b8b8b8" stroke-width="1.00"/>
<line x1="336.33" y1="477.70" x2="336.33" y2="475.70" stroke="#b8b8b8" stroke-width="1.00"/>
<line x1="336.33" y1="267.50" x2="336.33" y2="269.50" stroke="#b8b8b8" stroke-width="1.00"/>
<line x1="347.53" y1="477.70" x2="347.53" y2="475.70" stroke="#b8b8b8" stroke-width="1.00"/>
<line x1="347.53" y1="267.50" x2="347.53" y2="269.50" stroke="#b8b8b8" stroke-width="1.00"/>
<line x1="358.74" y1="477.70" x2="358.74" y2="475.70" stroke="#b8b8b8" stroke-width="1.00"/>
<line x1="358.74" y1="267.50" x2="358.74" y2="269.50" stroke="#b8b8b8" stroke-width="1.00"/>
<line x1="369.94" y1="477.70" x2="369.94" y2="475.70" stroke="#b8b8b8" stroke-width="1.00"/>
<line x1="369.94" y1="267.50" x2="369.94" y2="269.50" stroke="#b8b8b8" stroke-width="1.00"/>
<line x1="392.35" y1="477.70" x2="392.35" y2="475.70" stroke="#b8b8b8" stroke-width="1.00"/>
<line x1="392.35" y1="267.50" x2="392.35" y2="269.50" stroke="#b8b8b8" stroke-width="1.00"/>
<line x1="403.56" y1="477.70" x2="403.56" y2="475.70" stroke="#b8b8b8" stroke-width="1.00"/>
<line x1="403.56" y1="267.50" x2="403.56" y2="269.50" stroke="#b8b8b8" stroke-width="1.00"/>
<line x1="414.76" y1="477.70" x2="414.76" y2="475.70" stroke="#b8b8b8" stroke-width="1.00"/>
<line x1="414.76" y1="267.50" x2="414.76" y2="269.50" stroke="#b8b8b8" stroke-width="1.00"/>
<line x1="425.97" y1="477.70" x2="425.97" y2="475.70" stroke="#b8b8b8" stroke-width="1.00"/>
<line x1="425.97" y1="267.50" x2="425.97" y2="269.50" stroke="#b8b8b8" stroke-width="1.00"/>
<line x1="448.38" y1="477.70" x2="448.38" y2="475.70" stroke="#b8b8b8" stroke-width="1.00"/>
<line x1="448.38" y1="267.50" x2="448.38" y2="269.50" stroke="#b8b8b8" stroke-width="1.00"/>
<line x1="459.58" y1="477.70" x2="459.58" y2="475.70" stroke="#b8b8b8" stroke-width="1.00"/>
<line x1="459.58" y1="267.50" x2="459.58" y2="269.50" stroke="#b8b8b8" stroke-width="1.00"/>
<line x1="470.79" y1="477.70" x2="470.79" y2="475.70" stroke="#b8b8b8" stroke-width="1.00"/>
<line x1="470.79" y1="267.50" x2="470.79" y2="269.50" stroke="#b8b8b8" stroke-width="1.00"/>
<line x1="482.00" y1="477.70" x2="482.00" y2="475.70" stroke="#b8b8b8" stroke-width="1.00"/>
<line x1="482.00" y1="267.50" x2="482.00" y2="269.50" stroke="#b8b8b8" stroke-width="1.00"/>
<line x1="44.50" y1="267.40" x2="48.70" y2="267.40" stroke="#9a9a9a" stroke-width="1.00"/>
<line x1="493.40" y1="267.40" x2="489.20" y2="267.40" stroke="#9a9a9a" stroke-width="1.00"/>
<line x1="44.50" y1="297.43" x2="48.70" y2="297.43" stroke="#9a9a9a" stroke-width="1.00"/>
<line x1="493.40" y1="297.43" x2="489.20" y2="297.43" stroke="#9a9a9a" stroke-width="1.00"/>
<line x1="44.50" y1="327.46" x2="48.70" y2="327.46" stroke="#9a9a9a" stroke-width="1.00"/>
<line x1="493.40" y1="327.46" x2="489.20" y2="327.46" stroke="#9a9a9a" stroke-width="1.00"/>
<line x1="44.50" y1="357.49" x2="48.70" y2="357.49" stroke="#9a9a9a" stroke-width="1.00"/>
<line x1="493.40" y1="357.49" x2="489.20" y2="357.49" stroke="#9a9a9a" stroke-width="1.00"/>
<line x1="44.50" y1="387.51" x2="48.70" y2="387.51" stroke="#9a9a9a" stroke-width="1.00"/>
<line x1="493.40" y1="387.51" x2="489.20" y2="387.51" stroke="#9a9a9a" stroke-width="1.00"/>
<line x1="44.50" y1="417.54" x2="48.70" y2="417.54" stroke="#9a9a9a" stroke-width="1.00"/>
<line x1="493.40" y1="417.54" x2="489.20" y2="417.54" stroke="#9a9a9a" stroke-width="1.00"/>
<line x1="44.50" y1="447.57" x2="48.70" y2="447.57" stroke="#9a9a9a" stroke-width="1.00"/>
<line x1="493.40" y1="447.57" x2="489.20" y2="447.57" stroke="#9a9a9a" stroke-width="1.00"/>
<line x1="44.50" y1="477.60" x2="48.70" y2="477.60" stroke="#9a9a9a" stroke-width="1.00"/>
<line x1="493.40" y1="477.60" x2="489.20" y2="477.60" stroke="#9a9a9a" stroke-width="1.00"/>
<line x1="44.50" y1="273.41" x2="47.10" y2="273.41" stroke="#b8b8b8" stroke-width="1.00"/>
<line x1="493.40" y1="273.41" x2="490.80" y2="273.41" stroke="#b8b8b8" stroke-width="1.00"/>
<line x1="44.50" y1="279.41" x2="47.10" y2="279.41" stroke="#b8b8b8" stroke-width="1.00"/>
<line x1="493.40" y1="279.41" x2="490.80" y2="279.41" stroke="#b8b8b8" stroke-width="1.00"/>
<line x1="44.50" y1="285.42" x2="47.10" y2="285.42" stroke="#b8b8b8" stroke-width="1.00"/>
<line x1="493.40" y1="285.42" x2="490.80" y2="285.42" stroke="#b8b8b8" stroke-width="1.00"/>
<line x1="44.50" y1="291.42" x2="47.10" y2="291.42" stroke="#b8b8b8" stroke-width="1.00"/>
<line x1="493.40" y1="291.42" x2="490.80" y2="291.42" stroke="#b8b8b8" stroke-width="1.00"/>
<line x1="44.50" y1="303.43" x2="47.10" y2="303.43" stroke="#b8b8b8" stroke-width="1.00"/>
<line x1="493.40" y1="303.43" x2="490.80" y2="303.43" stroke="#b8b8b8" stroke-width="1.00"/>
<line x1="44.50" y1="309.44" x2="47.10" y2="309.44" stroke="#b8b8b8" stroke-width="1.00"/>
<line x1="493.40" y1="309.44" x2="490.80" y2="309.44" stroke="#b8b8b8" stroke-width="1.00"/>
<line x1="44.50" y1="315.45" x2="47.10" y2="315.45" stroke="#b8b8b8" stroke-width="1.00"/>
<line x1="493.40" y1="315.45" x2="490.80" y2="315.45" stroke="#b8b8b8" stroke-width="1.00"/>
<line x1="44.50" y1="321.45" x2="47.10" y2="321.45" stroke="#b8b8b8" stroke-width="1.00"/>
<line x1="493.40" y1="321.45" x2="490.80" y2="321.45" stroke="#b8b8b8" stroke-width="1.00"/>
<line x1="44.50" y1="333.46" x2="47.10" y2="333.46" stroke="#b8b8b8" stroke-width="1.00"/>
<line x1="493.40" y1="333.46" x2="490.80" y2="333.46" stroke="#b8b8b8" stroke-width="1.00"/>
<line x1="44.50" y1="339.47" x2="47.10" y2="339.47" stroke="#b8b8b8" stroke-width="1.00"/>
<line x1="493.40" y1="339.47" x2="490.80" y2="339.47" stroke="#b8b8b8" stroke-width="1.00"/>
<line x1="44.50" y1="345.47" x2="47.10" y2="345.47" stroke="#b8b8b8" stroke-width="1.00"/>
<line x1="493.40" y1="345.47" x2="490.80" y2="345.47" stroke="#b8b8b8" stroke-width="1.00"/>
<line x1="44.50" y1="351.48" x2="47.10" y2="351.48" stroke="#b8b8b8" stroke-width="1.00"/>
<line x1="493.40" y1="351.48" x2="490.80" y2="351.48" stroke="#b8b8b8" stroke-width="1.00"/>
<line x1="44.50" y1="363.49" x2="47.10" y2="363.49" stroke="#b8b8b8" stroke-width="1.00"/>
<line x1="493.40" y1="363.49" x2="490.80" y2="363.49" stroke="#b8b8b8" stroke-width="1.00"/>
<line x1="44.50" y1="369.50" x2="47.10" y2="369.50" stroke="#b8b8b8" stroke-width="1.00"/>
<line x1="493.40" y1="369.50" x2="490.80" y2="369.50" stroke="#b8b8b8" stroke-width="1.00"/>
<line x1="44.50" y1="375.50" x2="47.10" y2="375.50" stroke="#b8b8b8" stroke-width="1.00"/>
<line x1="493.40" y1="375.50" x2="490.80" y2="375.50" stroke="#b8b8b8" stroke-width="1.00"/>
<line x1="44.50" y1="381.51" x2="47.10" y2="381.51" stroke="#b8b8b8" stroke-width="1.00"/>
<line x1="493.40" y1="381.51" x2="490.80" y2="381.51" stroke="#b8b8b8" stroke-width="1.00"/>
<line x1="44.50" y1="393.52" x2="47.10" y2="393.52" stroke="#b8b8b8" stroke-width="1.00"/>
<line x1="493.40" y1="393.52" x2="490.80" y2="393.52" stroke="#b8b8b8" stroke-width="1.00"/>
<line x1="44.50" y1="399.53" x2="47.10" y2="399.53" stroke="#b8b8b8" stroke-width="1.00"/>
<line x1="493.40" y1="399.53" x2="490.80" y2="399.53" stroke="#b8b8b8" stroke-width="1.00"/>
<line x1="44.50" y1="405.53" x2="47.10" y2="405.53" stroke="#b8b8b8" stroke-width="1.00"/>
<line x1="493.40" y1="405.53" x2="490.80" y2="405.53" stroke="#b8b8b8" stroke-width="1.00"/>
<line x1="44.50" y1="411.54" x2="47.10" y2="411.54" stroke="#b8b8b8" stroke-width="1.00"/>
<line x1="493.40" y1="411.54" x2="490.80" y2="411.54" stroke="#b8b8b8" stroke-width="1.00"/>
<line x1="44.50" y1="423.55" x2="47.10" y2="423.55" stroke="#b8b8b8" stroke-width="1.00"/>
<line x1="493.40" y1="423.55" x2="490.80" y2="423.55" stroke="#b8b8b8" stroke-width="1.00"/>
<line x1="44.50" y1="429.55" x2="47.10" y2="429.55" stroke="#b8b8b8" stroke-width="1.00"/>
<line x1="493.40" y1="429.55" x2="490.80" y2="429.55" stroke="#b8b8b8" stroke-width="1.00"/>
<line x1="44.50" y1="435.56" x2="47.10" y2="435.56" stroke="#b8b8b8" stroke-width="1.00"/>
<line x1="493.40" y1="435.56" x2="490.80" y2="435.56" stroke="#b8b8b8" stroke-width="1.00"/>
<line x1="44.50" y1="441.57" x2="47.10" y2="441.57" stroke="#b8b8b8" stroke-width="1.00"/>
<line x1="493.40" y1="441.57" x2="490.80" y2="441.57" stroke="#b8b8b8" stroke-width="1.00"/>
<line x1="44.50" y1="453.58" x2="47.10" y2="453.58" stroke="#b8b8b8" stroke-width="1.00"/>
<line x1="493.40" y1="453.58" x2="490.80" y2="453.58" stroke="#b8b8b8" stroke-width="1.00"/>
<line x1="44.50" y1="459.58" x2="47.10" y2="459.58" stroke="#b8b8b8" stroke-width="1.00"/>
<line x1="493.40" y1="459.58" x2="490.80" y2="459.58" stroke="#b8b8b8" stroke-width="1.00"/>
<line x1="44.50" y1="465.59" x2="47.10" y2="465.59" stroke="#b8b8b8" stroke-width="1.00"/>
<line x1="493.40" y1="465.59" x2="490.80" y2="465.59" stroke="#b8b8b8" stroke-width="1.00"/>
<line x1="44.50" y1="471.59" x2="47.10" y2="471.59" stroke="#b8b8b8" stroke-width="1.00"/>
<line x1="493.40" y1="471.59" x2="490.80" y2="471.59" stroke="#b8b8b8" stroke-width="1.00"/>
<polyline points="44.9,417.5 47.8,418.1 51.7,417.5 55.6,418.1 59.5,419.1 63.4,420.0 67.3,420.4 71.2,421.0 75.2,422.0 79.1,422.6 83.0,422.0 86.9,422.6 90.8,423.4 94.7,423.0 97.6,420.0 100.5,417.1 103.5,418.1 106.4,420.0 109.3,416.1 112.3,413.2 115.2,411.2 118.1,412.2 121.1,415.2 124.0,413.2 126.9,409.3 129.8,407.3 132.8,404.4 135.7,403.8 138.6,401.5 140.0,400.0 142.0,397.1 144.3,395.2 145.9,397.1 147.8,399.1 149.8,400.0 151.7,401.0 153.7,400.6 155.2,400.0 156.6,403.9 158.6,405.9 160.5,406.9 162.5,408.4 164.4,407.9 166.4,406.9 168.3,405.9 169.7,405.3 171.2,408.8 172.8,411.8 174.8,411.2 176.7,412.7 178.7,413.7 180.0,411.8 181.4,411.4 183.0,415.7 184.9,418.2 186.9,419.0 190.8,419.0 194.7,418.2 198.6,419.6 202.5,420.2 206.4,419.0 210.3,418.2 214.2,418.6 217.7,420.2 222.0,418.6 225.9,418.2 229.8,418.2 233.8,417.8 237.7,417.4 240.0,418.1 247.8,417.7 255.6,417.7 261.5,417.3 263.4,416.6 269.3,416.6 276.1,416.6 279.1,417.7 282.0,418.5 285.9,417.3 290.4,416.2 293.7,417.7 297.0,419.3 300.5,417.7 305.4,415.2 308.4,416.8 311.9,418.5 315.2,419.3 317.7,418.1 320.5,414.2 323.6,411.9 325.9,411.3 328.9,412.7 330.8,415.2 332.8,418.1 334.7,419.7 337.3,417.7 340.0,417.1 342.9,418.1 345.9,424.0 349.4,428.3 351.7,425.9 354.1,423.0 357.2,425.0 359.5,426.9 363.4,428.9 366.4,427.5 369.3,426.9 372.2,425.9 375.2,424.4 378.1,423.0 381.0,420.1 383.9,421.1 386.9,422.0 389.2,420.1 391.2,418.5 393.7,420.5 396.6,422.0 399.0,423.0 402.1,421.1 405.4,419.7 408.4,419.7 411.3,421.1 414.2,420.5 417.1,419.1 420.1,418.1 423.0,417.1 425.9,418.5 428.9,417.7 431.8,417.3 435.7,416.6 438.0,417.0 441.1,417.7 444.2,417.7 447.3,417.0 451.2,416.9 455.9,416.9 460.9,416.9" fill="none" stroke="#ff0000" stroke-width="1.00" stroke-opacity="0.40" stroke-linejoin="round" />
<polyline points="44.9,418.1 46.8,414.2 48.2,422.0 49.8,411.2 51.3,409.3 52.7,413.2 54.1,423.0 55.6,428.8 57.2,436.6 58.6,434.7 59.9,436.6 61.5,430.8 63.0,426.9 64.4,420.0 65.8,426.9 67.3,438.6 68.9,450.3 69.9,458.1 71.2,450.3 72.8,442.5 74.2,438.6 75.5,435.7 77.1,432.7 78.7,427.9 80.0,432.7 81.4,438.6 83.0,443.5 84.9,445.4 86.5,446.4 87.9,438.6 89.2,428.8 90.4,415.2 91.8,399.5 93.1,390.7 94.7,394.6 96.2,397.6 97.6,398.6 98.6,407.3 99.6,423.0 100.5,432.7 102.1,430.8 103.5,425.9 105.4,415.2 106.8,403.4 108.0,398.6 109.3,407.3 110.7,417.1 112.3,424.9 113.8,427.9 115.8,424.9 117.7,416.1 119.7,405.4 121.6,397.6 123.6,395.6 125.0,401.5 125.9,408.3 127.5,409.3 128.9,411.2 130.2,413.2 131.8,411.2 133.4,408.3 134.7,401.5 136.1,391.7 137.7,383.9 139.2,380.0 140.0,381.5 141.6,391.2 142.9,403.0 144.3,407.9 145.9,404.9 147.4,397.1 148.8,387.3 149.8,385.4 151.3,389.3 152.7,385.4 154.1,379.5 155.2,377.6 156.6,385.4 158.0,395.2 159.1,396.1 160.5,391.2 161.9,385.4 163.4,377.6 165.0,371.7 167.0,368.2 168.9,367.4 170.3,371.7 171.6,379.5 172.8,383.4 174.2,377.6 175.5,368.8 176.7,373.7 178.1,380.5 179.5,375.6 181.0,371.3 182.6,375.6 183.4,383.4 184.5,395.2 185.9,404.9 186.5,406.9 187.9,402.0 189.2,399.1 190.4,398.1 191.8,393.2 193.1,387.3 194.7,382.5 196.1,379.5 197.0,385.4 198.2,390.3 199.6,401.0 200.9,400.0 202.1,403.0 203.5,406.9 204.8,399.1 206.0,393.2 207.4,390.3 208.8,388.3 210.3,387.3 211.9,383.4 213.2,381.5 214.6,387.3 215.8,399.1 217.1,408.8 217.7,411.8 219.1,399.1 220.1,387.3 221.6,381.5 223.0,377.2 224.4,381.5 225.9,385.4 227.5,389.3 228.9,389.3 230.2,397.1 231.8,405.9 233.4,397.1 234.7,385.4 236.1,379.5 237.7,382.5 239.6,387.3 240.0,375.2 241.6,373.2 242.3,384.9 243.5,401.5 244.9,399.6 246.2,400.5 247.4,391.8 248.8,398.6 250.2,386.9 251.3,380.0 252.7,377.1 254.1,384.9 255.2,379.1 256.6,381.0 258.0,394.7 258.9,402.1 260.5,390.8 261.9,384.9 263.4,381.0 264.4,386.9 265.4,380.0 267.0,386.9 268.3,376.1 269.7,388.8 270.9,379.1 272.2,376.1 273.6,388.8 274.8,398.2 276.1,386.9 277.5,384.9 279.1,377.1 280.6,373.2 282.0,363.4 283.0,359.1 284.5,365.4 285.9,371.2 287.3,378.1 289.2,381.0 291.2,378.1 292.7,369.3 294.7,363.4 296.6,361.1 298.2,359.1 300.2,362.5 302.1,367.3 304.1,375.2 306.0,377.1 308.0,369.3 309.9,364.4 312.3,361.5 315.2,360.5 317.7,363.4 319.1,369.3 320.5,380.0 322.4,382.0 324.0,388.8 325.5,396.6 327.5,392.7 329.5,379.1 331.4,372.2 333.4,366.4 335.3,369.3 337.3,375.2 338.6,379.1 340.0,381.0 341.6,394.7 342.9,399.6 344.3,390.8 345.9,383.0 347.4,375.2 348.8,373.2 350.2,377.1 351.7,384.9 353.3,392.7 354.1,394.7 355.6,388.8 357.2,386.9 359.5,386.9 361.5,387.9 363.0,379.1 364.4,369.3 365.4,366.4 367.0,367.3 368.3,369.3 369.3,383.0 370.3,390.8 371.6,386.9 373.2,382.0 374.8,379.1 376.1,370.3 377.5,361.5 379.1,356.6 380.6,359.5 382.0,363.4 383.4,369.3 384.5,376.1 385.3,378.1 386.9,374.2 388.4,371.2 389.8,361.5 390.8,354.6 391.8,352.1 393.1,363.4 394.3,371.2 395.7,375.2 396.6,379.1 397.6,388.8 398.2,392.7 399.6,383.0 400.9,382.0 402.1,375.2 403.5,372.2 404.8,369.3 406.0,362.5 407.4,368.3 408.8,369.3 409.9,375.2 410.7,381.0 412.3,391.8 413.8,386.9 415.2,383.0 416.6,379.1 418.1,375.2 419.7,370.3 421.6,367.3 423.6,369.3 425.5,373.2 426.3,383.0 427.5,399.6 428.9,384.9 430.2,390.8 431.8,379.1 433.4,375.2 434.7,369.3 435.7,357.6 436.7,365.4 438.0,376.1 438.4,379.8 439.5,375.9 440.3,372.8 441.6,377.5 442.7,386.9 443.4,391.6 444.7,385.3 445.8,381.4 446.9,378.3 448.1,371.2 449.7,363.4 450.9,365.0 452.0,371.2 453.1,380.6 454.1,388.4 455.2,392.3 456.2,386.9 457.2,385.3 458.3,400.9 459.4,394.7 460.3,390.0 461.4,386.9" fill="none" stroke="#00f000" stroke-width="1.00" stroke-opacity="0.42" stroke-linejoin="round" />
<polyline points="44.9,418.1 46.8,417.1 48.8,413.2 50.7,413.2 52.7,415.2 55.6,418.1 57.6,421.0 59.5,423.0 62.5,425.9 64.4,427.9 66.4,430.8 68.3,434.7 70.9,436.6 73.6,438.6 76.1,436.6 78.1,431.8 79.1,428.8 81.0,432.3 83.0,431.8 85.9,430.4 88.4,427.9 89.8,422.0 90.8,409.3 91.8,395.6 92.7,380.0 94.7,373.8 96.2,365.9 97.6,365.0 99.0,369.8 100.5,372.8 102.5,368.9 104.5,362.0 106.4,356.2 108.0,351.3 109.3,355.2 110.7,353.2 112.3,352.3 114.2,353.8 116.2,352.3 118.1,350.3 119.7,342.5 121.1,335.7 123.0,332.3 124.4,335.7 125.9,338.2 127.9,336.6 129.8,335.7 131.8,332.7 133.8,333.7 135.3,323.0 136.7,315.2 138.0,307.3 139.2,305.0 140.0,307.3 141.6,313.2 142.9,328.8 144.3,340.5 145.9,342.9 147.4,338.6 148.8,326.9 149.8,325.3 150.7,330.8 151.7,332.7 153.3,326.9 154.6,325.9 156.0,332.7 157.6,340.5 158.9,344.1 160.5,339.6 161.9,334.7 163.4,327.9 165.4,324.9 167.3,322.6 168.9,326.9 170.3,330.4 171.6,331.8 173.2,328.8 174.8,324.9 176.1,322.6 177.5,325.9 179.1,326.9 180.6,325.9 182.0,329.8 183.4,333.7 184.9,340.2 186.5,337.6 187.9,333.7 189.2,331.8 190.8,326.9 192.3,321.0 193.7,316.7 195.1,315.5 196.6,318.1 197.6,322.0 199.6,323.0 201.5,324.5 203.5,323.0 205.4,321.4 206.8,320.0 208.4,318.1 209.9,321.0 211.3,315.2 212.7,316.1 213.8,311.2 215.2,317.1 216.2,315.5 217.7,312.2 219.1,311.2 220.5,310.3 222.0,307.3 223.6,308.3 225.5,309.3 227.5,307.3 228.9,306.4 230.2,314.2 231.4,317.1 232.8,311.2 233.8,306.4 235.7,305.8 237.7,307.3 240.0,310.0 242.0,311.0 243.9,315.9 245.9,317.9 247.8,313.9 249.8,312.6 251.3,315.3 253.3,316.9 255.2,314.5 257.6,312.6 259.5,314.5 261.5,313.4 263.4,312.6 265.4,312.0 267.3,311.0 269.3,313.4 271.2,314.9 273.2,316.5 275.2,317.9 278.1,318.8 281.0,317.9 283.9,316.9 286.9,315.9 289.8,315.3 292.3,313.4 294.7,312.6 297.0,311.0 299.6,308.1 302.1,306.1 304.5,307.5 306.4,309.1 308.8,310.6 311.3,309.1 313.8,307.1 316.6,307.5 319.1,308.1 321.6,310.0 323.6,313.0 325.0,317.9 326.3,321.2 327.9,319.8 329.5,314.9 331.4,310.0 333.4,308.1 335.3,311.0 336.7,316.9 338.0,322.7 339.6,326.6 341.6,336.4 342.9,342.3 344.3,336.4 345.9,328.6 347.4,319.8 348.8,318.4 350.2,322.7 351.7,328.6 353.3,334.5 354.1,336.8 355.6,328.6 357.2,326.6 359.1,325.7 361.1,324.7 362.5,320.8 363.8,307.1 365.4,295.4 367.0,295.0 368.3,295.4 369.3,309.1 370.3,316.9 371.6,313.0 373.2,311.0 374.8,307.1 376.1,293.4 377.5,287.6 379.1,283.7 380.6,287.6 382.0,293.4 383.4,293.4 385.3,299.3 386.9,295.4 388.4,289.5 390.4,286.6 391.8,287.6 393.1,291.5 394.7,297.3 396.2,299.3 397.6,301.6 399.6,298.3 401.5,295.4 403.5,295.0 405.4,294.4 407.4,295.8 409.3,295.0 410.7,297.3 412.7,299.3 414.6,302.2 416.2,299.3 417.7,294.4 419.1,301.2 420.5,297.3 422.0,301.2 423.6,305.2 425.5,307.1 427.5,308.7 428.9,307.1 430.2,309.1 431.8,308.1 433.4,309.1 434.7,306.1 435.7,303.2 436.7,306.1 437.7,311.0 438.8,313.4 440.0,310.9 441.1,309.8 442.7,312.2 444.2,314.1 445.8,312.2 447.3,310.3 448.4,309.8 450.0,311.9 451.6,313.8 452.8,317.7 454.1,321.6 455.2,324.4 456.2,320.0 457.5,319.2 459.1,319.7 460.9,318.4" fill="none" stroke="#0000ff" stroke-width="1.00" stroke-opacity="0.38" stroke-linejoin="round" />
<polyline points="235.2,436.6 283.6,436.6" fill="none" stroke="#ff0000" stroke-width="1.00" stroke-opacity="0.30" stroke-linejoin="round" />
<polyline points="235.2,447.8 283.6,447.8" fill="none" stroke="#00d000" stroke-width="1.00" stroke-opacity="0.30" stroke-linejoin="round" />
<polyline points="235.2,458.4 283.6,458.4" fill="none" stroke="#0000ff" stroke-width="1.00" stroke-opacity="0.30" stroke-linejoin="round" />
<text x="289.40" y="440.00" font-family="Liberation Sans" font-size="8.60" text-anchor="start" >RL</text>
<text x="289.40" y="451.60" font-family="Liberation Sans" font-size="8.60" text-anchor="start" >SI</text>
<text x="289.40" y="462.60" font-family="Liberation Sans" font-size="8.60" text-anchor="start" >AP</text>
<text x="41.60" y="270.50" font-family="Liberation Sans" font-size="8.70" text-anchor="end" >2.5</text>
<text x="41.60" y="300.53" font-family="Liberation Sans" font-size="8.70" text-anchor="end" >2</text>
<text x="41.60" y="330.56" font-family="Liberation Sans" font-size="8.70" text-anchor="end" >1.5</text>
<text x="41.60" y="360.59" font-family="Liberation Sans" font-size="8.70" text-anchor="end" >1</text>
<text x="41.60" y="390.61" font-family="Liberation Sans" font-size="8.70" text-anchor="end" >0.5</text>
<text x="41.60" y="420.64" font-family="Liberation Sans" font-size="8.70" text-anchor="end" >0</text>
<text x="41.60" y="450.67" font-family="Liberation Sans" font-size="8.70" text-anchor="end" >-0.5</text>
<text x="41.60" y="480.70" font-family="Liberation Sans" font-size="8.70" text-anchor="end" >-1</text>
<text x="44.70" y="487.70" font-family="Liberation Sans" font-size="8.70" text-anchor="middle" >0</text>
<text x="100.73" y="487.70" font-family="Liberation Sans" font-size="8.70" text-anchor="middle" >10</text>
<text x="156.75" y="487.70" font-family="Liberation Sans" font-size="8.70" text-anchor="middle" >20</text>
<text x="212.77" y="487.70" font-family="Liberation Sans" font-size="8.70" text-anchor="middle" >30</text>
<text x="268.80" y="487.70" font-family="Liberation Sans" font-size="8.70" text-anchor="middle" >40</text>
<text x="324.82" y="487.70" font-family="Liberation Sans" font-size="8.70" text-anchor="middle" >50</text>
<text x="380.85" y="487.70" font-family="Liberation Sans" font-size="8.70" text-anchor="middle" >60</text>
<text x="436.88" y="487.70" font-family="Liberation Sans" font-size="8.70" text-anchor="middle" >70</text>
<text x="492.90" y="487.70" font-family="Liberation Sans" font-size="8.70" text-anchor="middle" >80</text>
<text x="271.90" y="503.00" font-family="Liberation Serif" font-size="13.80" text-anchor="middle" >Time (s)</text>
<text x="263.20" y="519.80" font-family="Liberation Serif" font-size="13.60" text-anchor="middle" >(b)</text>
<text x="0.00" y="0.00" font-family="Liberation Serif" font-size="13.00" text-anchor="middle" transform="translate(11.3,382.2) rotate(-90)">Displacement (mm)</text>
<rect x="39.80" y="539.90" width="463.50" height="189.70" fill="none" stroke="#a4a4a4" stroke-width="1.40"/>
<line x1="39.80" y1="539.90" x2="39.80" y2="615.50" stroke="#8a8a8a" stroke-width="1.30"/>
<line x1="39.80" y1="729.60" x2="39.80" y2="726.40" stroke="#9a9a9a" stroke-width="1.00"/>
<line x1="39.80" y1="539.90" x2="39.80" y2="543.10" stroke="#9a9a9a" stroke-width="1.00"/>
<line x1="97.74" y1="729.60" x2="97.74" y2="726.40" stroke="#9a9a9a" stroke-width="1.00"/>
<line x1="97.74" y1="539.90" x2="97.74" y2="543.10" stroke="#9a9a9a" stroke-width="1.00"/>
<line x1="155.68" y1="729.60" x2="155.68" y2="726.40" stroke="#9a9a9a" stroke-width="1.00"/>
<line x1="155.68" y1="539.90" x2="155.68" y2="543.10" stroke="#9a9a9a" stroke-width="1.00"/>
<line x1="213.61" y1="729.60" x2="213.61" y2="726.40" stroke="#9a9a9a" stroke-width="1.00"/>
<line x1="213.61" y1="539.90" x2="213.61" y2="543.10" stroke="#9a9a9a" stroke-width="1.00"/>
<line x1="271.55" y1="729.60" x2="271.55" y2="726.40" stroke="#9a9a9a" stroke-width="1.00"/>
<line x1="271.55" y1="539.90" x2="271.55" y2="543.10" stroke="#9a9a9a" stroke-width="1.00"/>
<line x1="329.49" y1="729.60" x2="329.49" y2="726.40" stroke="#9a9a9a" stroke-width="1.00"/>
<line x1="329.49" y1="539.90" x2="329.49" y2="543.10" stroke="#9a9a9a" stroke-width="1.00"/>
<line x1="387.43" y1="729.60" x2="387.43" y2="726.40" stroke="#9a9a9a" stroke-width="1.00"/>
<line x1="387.43" y1="539.90" x2="387.43" y2="543.10" stroke="#9a9a9a" stroke-width="1.00"/>
<line x1="445.36" y1="729.60" x2="445.36" y2="726.40" stroke="#9a9a9a" stroke-width="1.00"/>
<line x1="445.36" y1="539.90" x2="445.36" y2="543.10" stroke="#9a9a9a" stroke-width="1.00"/>
<line x1="503.30" y1="729.60" x2="503.30" y2="726.40" stroke="#9a9a9a" stroke-width="1.00"/>
<line x1="503.30" y1="539.90" x2="503.30" y2="543.10" stroke="#9a9a9a" stroke-width="1.00"/>
<line x1="39.80" y1="539.90" x2="43.40" y2="539.90" stroke="#9a9a9a" stroke-width="1.00"/>
<line x1="503.30" y1="539.90" x2="499.70" y2="539.90" stroke="#9a9a9a" stroke-width="1.00"/>
<line x1="39.80" y1="567.00" x2="43.40" y2="567.00" stroke="#9a9a9a" stroke-width="1.00"/>
<line x1="503.30" y1="567.00" x2="499.70" y2="567.00" stroke="#9a9a9a" stroke-width="1.00"/>
<line x1="39.80" y1="594.10" x2="43.40" y2="594.10" stroke="#9a9a9a" stroke-width="1.00"/>
<line x1="503.30" y1="594.10" x2="499.70" y2="594.10" stroke="#9a9a9a" stroke-width="1.00"/>
<line x1="39.80" y1="621.20" x2="43.40" y2="621.20" stroke="#9a9a9a" stroke-width="1.00"/>
<line x1="503.30" y1="621.20" x2="499.70" y2="621.20" stroke="#9a9a9a" stroke-width="1.00"/>
<line x1="39.80" y1="648.30" x2="43.40" y2="648.30" stroke="#9a9a9a" stroke-width="1.00"/>
<line x1="503.30" y1="648.30" x2="499.70" y2="648.30" stroke="#9a9a9a" stroke-width="1.00"/>
<line x1="39.80" y1="675.40" x2="43.40" y2="675.40" stroke="#9a9a9a" stroke-width="1.00"/>
<line x1="503.30" y1="675.40" x2="499.70" y2="675.40" stroke="#9a9a9a" stroke-width="1.00"/>
<line x1="39.80" y1="702.50" x2="43.40" y2="702.50" stroke="#9a9a9a" stroke-width="1.00"/>
<line x1="503.30" y1="702.50" x2="499.70" y2="702.50" stroke="#9a9a9a" stroke-width="1.00"/>
<line x1="39.80" y1="729.60" x2="43.40" y2="729.60" stroke="#9a9a9a" stroke-width="1.00"/>
<line x1="503.30" y1="729.60" x2="499.70" y2="729.60" stroke="#9a9a9a" stroke-width="1.00"/>
<polyline points="40.6,648.6 41.1,643.7 41.6,634.5 42.1,629.8 42.4,645.2 42.7,655.6 43.2,651.7 43.6,645.1 43.9,650.7 44.1,653.3 44.6,648.5 45.0,640.4 45.3,641.7 45.6,641.6 46.0,640.4 46.4,636.3 46.9,639.5 47.4,639.2 47.8,643.7 48.3,643.9 48.7,641.5 49.1,638.0 49.7,649.3 50.3,658.6 50.8,653.6 51.3,645.5 51.8,642.2 52.4,648.4 53.0,650.9 53.5,648.2 53.9,642.1 54.4,641.6 55.0,640.2 55.6,631.9 56.2,629.8 56.8,633.9 57.3,634.5 57.9,645.2 58.5,654.5 59.1,651.3 59.7,647.4 60.1,650.7 60.5,650.9 61.0,644.3 61.4,636.9 62.0,631.8 62.6,625.2 63.1,623.1 63.5,619.3 64.0,615.0 64.4,609.9 64.8,614.8 65.2,617.0 65.7,615.9 66.1,612.3 66.4,620.4 66.7,624.0 67.0,626.1 67.3,625.2 67.8,641.3 68.2,653.9 68.8,643.9 69.4,631.0 69.8,626.7 70.2,618.7 70.6,632.1 71.0,642.7 71.5,636.1 72.0,627.5 72.5,638.9 72.9,645.1 73.3,648.8 73.7,647.4 74.2,653.2 74.6,654.5 75.0,647.6 75.5,636.9 76.0,631.7 76.4,624.6 76.8,638.0 77.3,649.8 77.8,637.8 78.4,624.0 78.8,621.5 79.3,618.1 79.7,628.4 80.2,634.5 80.7,638.1 81.1,639.2 81.5,645.6 81.9,647.4 82.4,637.5 82.8,625.2 83.2,639.4 83.7,648.6 84.2,655.5 84.6,658.0 85.1,661.2 85.5,663.8 85.9,652.3 86.3,639.2 86.6,646.3 87.0,648.6 87.4,644.7 87.8,638.0 88.2,649.4 88.6,655.6 89.1,652.2 89.6,646.3 90.0,647.3 90.5,647.4 91.0,642.1 91.4,631.3 91.9,626.3 92.4,633.7 92.8,639.2 93.3,644.1 93.7,648.0 94.3,643.0 94.8,633.4 95.4,629.8 95.8,632.7 96.2,631.4 96.6,640.2 96.9,647.8 97.3,642.4 97.8,635.3 98.4,642.1 98.9,647.8 99.3,652.9 99.7,657.2 100.3,645.6 100.9,629.8 101.5,634.8 102.0,638.4 102.4,644.3 102.8,647.0 103.2,643.3 103.6,636.9 104.1,632.5 104.7,626.7 105.0,643.2 105.3,655.6 105.8,649.5 106.2,640.3 106.7,635.3 107.3,637.4 107.8,638.4 108.3,642.0 108.8,643.1 109.3,644.7 109.8,644.7 110.2,647.6 110.6,648.6 111.0,649.2 111.4,644.7 111.8,658.6 112.2,668.1 112.8,671.5 113.4,672.8 114.0,672.8 114.5,668.1 114.9,669.7 115.3,669.7 115.7,659.2 116.1,646.2 116.6,656.3 117.2,661.9 117.8,660.5 118.4,655.6 119.1,657.7 119.7,658.8 120.2,656.6 120.8,649.4 121.3,648.6 121.9,646.2 122.3,644.0 122.7,640.0 123.0,650.7 123.4,657.2 123.9,665.3 124.4,671.2 124.9,659.0 125.5,644.7 125.9,650.6 126.2,655.6 126.6,666.3 127.0,675.9 127.4,672.9 127.8,666.6 128.2,675.6 128.6,683.0 129.1,677.2 129.7,668.1 130.3,664.6 130.9,658.8 131.6,657.0 132.2,652.5 132.5,653.4 132.8,649.4 133.3,655.5 133.8,658.8 134.3,653.3 134.8,644.7 135.4,643.1 135.9,636.9 136.4,634.1 136.9,629.8 137.4,636.4 138.0,641.6 138.4,647.9 138.8,649.4 139.4,643.7 140.0,633.8 140.5,645.6 141.1,655.6 141.6,650.1 142.2,643.1 142.8,644.3 143.4,641.6 143.8,646.4 144.2,646.2 144.6,642.3 145.0,636.9 145.6,645.6 146.2,649.4 146.8,648.6 147.3,643.1 147.9,649.9 148.4,653.3 149.1,648.7 149.7,641.6 150.3,647.6 150.9,652.5 151.5,652.1 152.0,650.9 152.6,647.2 153.1,638.4 153.6,641.6 154.1,643.1 154.6,649.7 155.2,652.5 155.7,649.5 156.2,644.7 156.7,648.4 157.2,647.8 157.7,640.5 158.3,629.8 158.8,635.9 159.4,640.0 159.8,639.1 160.3,636.9 160.9,650.9 161.4,661.1 162.0,654.1 162.5,646.2 163.1,653.3 163.8,658.8 164.4,660.3 165.0,658.8 165.5,654.0 166.1,644.7 166.6,651.9 167.2,655.6 167.7,650.3 168.1,643.1 168.7,650.2 169.2,652.5 169.6,649.4 170.0,644.7 170.6,652.1 171.2,658.8 171.8,660.5 172.3,660.3 172.9,663.2 173.4,663.0 173.9,665.0 174.1,666.5 174.4,666.6 174.9,665.4 175.5,661.9 176.0,664.3 176.6,663.4 177.0,667.2 177.5,669.7 178.0,668.5 178.6,665.0 179.1,673.2 179.7,676.7 180.2,670.3 180.6,658.8 181.2,659.8 181.7,657.2 182.1,666.5 182.5,672.0 183.1,670.2 183.8,665.0 184.3,659.0 184.8,651.7 185.2,659.5 185.6,666.6 186.2,671.2 186.9,675.2 187.4,673.3 188.0,666.6 188.5,670.0 189.1,669.7 189.7,675.3 190.3,675.9 190.9,674.7 191.6,672.8 192.1,682.4 192.7,688.4 193.2,682.0 193.7,670.8 194.2,665.0 194.8,668.4 195.3,669.7 195.9,673.1 196.6,671.2 197.2,672.5 197.8,672.8 198.4,668.9 198.9,661.9 199.3,663.5 199.7,661.1 200.3,666.2 200.9,666.6 201.5,667.8 202.0,665.0 202.6,673.9 203.1,679.1 203.6,674.9 204.1,666.6 204.6,674.4 205.2,677.5 205.7,681.7 206.2,683.8 206.9,688.4 207.5,689.2 208.1,685.7 208.8,677.5 209.3,676.7 209.8,671.2 210.4,665.9 210.9,658.0 211.4,665.9 211.9,669.7 212.4,668.1 213.0,661.9 213.4,666.6 213.8,668.1 214.4,666.3 215.0,661.1 215.3,667.4 215.6,671.2 216.1,688.5 216.6,702.5 217.1,696.4 217.7,686.9 218.2,681.9 218.8,675.9 219.4,687.9 220.0,696.2 220.6,692.6 221.2,683.8 221.8,674.4 222.3,660.3 222.9,676.3 223.4,688.4 224.1,677.9 224.7,665.0 225.2,662.7 225.6,656.4 226.1,664.7 226.6,669.7 227.0,667.1 227.5,661.9 228.0,658.6 228.6,650.9 229.1,661.6 229.7,671.2 230.3,667.0 230.9,658.8 231.6,663.8 232.2,668.1 232.7,663.6 233.3,655.6 233.8,659.4 234.4,660.3 235.0,654.9 235.6,647.8 236.2,655.2 236.9,658.8 237.4,665.7 238.0,669.7 238.5,662.0 239.1,650.9 239.7,658.8 240.3,661.9 240.9,658.9 241.6,654.1 242.1,646.6 242.7,638.4 243.0,648.8 243.4,657.2 244.1,655.1 244.7,649.4 245.2,643.9 245.8,636.9 246.3,643.8 246.9,649.4 247.5,647.1 248.1,640.0 248.8,635.3 249.4,626.9 249.9,642.3 250.5,655.0 251.0,662.8 251.6,665.9 252.2,665.4 252.8,662.8 253.4,660.7 254.1,655.0 254.6,651.1 255.2,645.6 255.7,658.6 256.2,669.1 256.7,677.1 257.2,680.8 257.7,668.7 258.3,651.9 258.8,660.4 259.4,664.4 259.8,663.2 260.3,659.7 260.9,666.8 261.4,670.6 262.0,668.5 262.5,664.4 263.0,668.1 263.4,670.6 264.0,670.5 264.5,667.5 265.1,668.2 265.6,664.4 266.2,670.5 266.9,672.2 267.5,672.6 268.1,669.1 268.7,673.9 269.2,673.8 269.6,677.0 270.0,678.4 270.6,672.1 271.2,664.4 271.8,667.3 272.3,667.5 272.9,662.2 273.4,655.0 273.9,665.2 274.4,673.8 274.9,668.8 275.5,661.2 276.0,661.4 276.6,658.1 277.2,657.2 277.8,653.4 278.4,657.6 279.1,659.7 279.6,660.4 280.2,656.6 280.7,661.5 281.2,661.2 281.9,670.4 282.5,676.9 282.9,665.6 283.3,653.4 283.8,643.7 284.4,633.1 284.8,641.7 285.3,645.6 285.9,649.1 286.4,651.9 287.0,644.4 287.5,633.1 288.0,638.6 288.4,640.9 289.0,635.7 289.5,628.4 290.1,639.9 290.6,647.2 291.2,638.9 291.9,630.0 292.3,633.0 292.7,634.7 293.0,643.8 293.4,650.3 294.1,641.3 294.7,631.6 295.2,642.4 295.8,648.8 296.2,643.3 296.6,636.2 297.0,626.7 297.3,615.9 297.9,627.3 298.4,637.8 298.9,630.2 299.4,619.1 299.9,633.7 300.5,645.6 301.0,633.3 301.6,617.5 302.0,628.7 302.5,636.2 303.0,628.3 303.6,615.9 304.1,617.7 304.7,614.4 305.3,605.7 305.9,593.3 306.3,606.9 306.7,619.1 307.1,633.0 307.5,644.1 308.1,628.4 308.8,611.2 309.3,617.8 309.8,623.8 310.4,629.0 310.9,631.6 311.4,626.5 311.9,617.5 312.4,629.1 313.0,639.4 313.5,623.9 314.1,606.6 314.7,614.7 315.3,620.6 315.9,630.3 316.6,636.2 317.1,616.3 317.7,593.3 318.2,607.1 318.8,617.5 319.4,625.8 320.0,630.0 320.5,625.5 321.0,616.4 321.6,612.8 322.2,619.1 322.8,620.6 323.4,612.5 323.9,603.4 324.1,606.0 324.4,603.6 324.7,623.9 325.0,640.3 325.5,623.7 325.9,605.9 326.5,608.1 327.0,607.5 327.6,613.9 328.1,616.9 328.6,616.1 329.1,610.6 329.6,612.6 330.2,612.2 330.5,622.4 330.9,629.4 331.6,630.1 332.2,626.2 332.7,626.8 333.3,623.1 333.8,624.0 334.4,620.0 334.8,613.6 335.3,604.4 335.6,600.7 335.9,593.4 336.6,600.5 337.2,605.9 337.8,608.3 338.4,606.7 339.0,605.8 339.5,600.5 339.9,605.0 340.3,605.9 340.7,613.4 341.1,616.9 341.6,613.8 342.2,609.1 342.8,630.2 343.4,646.6 343.8,635.8 344.2,620.0 344.8,624.9 345.3,624.7 345.9,622.3 346.6,616.9 347.2,619.8 347.8,618.4 348.4,615.6 348.9,610.6 349.5,614.6 350.0,613.8 350.6,612.1 351.2,605.9 351.8,604.3 352.3,600.5 352.7,615.4 353.1,629.4 353.6,626.8 354.1,621.6 354.6,627.0 355.2,629.4 355.7,624.4 356.2,615.3 356.9,619.9 357.5,621.6 357.9,629.3 358.3,636.4 358.8,631.1 359.4,621.6 359.8,620.4 360.3,618.4 360.9,626.0 361.4,629.4 362.0,625.4 362.5,620.0 363.1,625.8 363.8,629.4 364.4,628.4 365.0,623.1 365.5,626.1 366.1,627.8 366.6,626.1 367.2,623.1 367.8,625.4 368.4,624.7 369.1,622.0 369.7,615.3 370.2,615.6 370.8,611.4 371.2,618.4 371.6,621.6 372.2,625.6 372.8,624.7 373.4,625.3 373.9,623.1 374.5,619.4 375.0,610.6 375.5,616.6 375.9,621.6 376.5,617.7 377.0,612.2 377.6,616.0 378.1,616.9 378.8,621.0 379.4,623.1 380.0,618.9 380.6,610.6 381.2,611.6 381.7,609.1 382.3,618.4 382.8,624.7 383.3,622.2 383.8,615.3 384.3,610.3 384.8,602.0 385.4,605.8 385.9,607.5 386.6,605.6 387.2,601.2 387.8,610.5 388.4,615.3 389.0,609.5 389.5,598.9 390.1,603.2 390.6,605.9 391.1,609.8 391.6,609.1 392.1,606.1 392.7,598.1 393.2,598.1 393.8,595.0 394.2,594.7 394.7,591.1 395.2,605.5 395.8,618.4 396.3,608.3 396.9,595.0 397.3,601.9 397.8,605.9 398.1,609.2 398.4,609.1 399.1,614.9 399.7,620.0 400.3,623.3 400.9,621.6 401.5,619.1 402.0,613.8 402.6,618.9 403.1,621.6 403.6,618.2 404.1,610.6 404.6,616.9 405.2,620.0 405.7,615.2 406.2,607.5 406.9,607.0 407.5,602.8 407.9,600.9 408.3,598.1 408.8,596.1 409.4,591.1 409.8,595.5 410.3,597.3 410.9,608.8 411.4,615.3 412.0,613.8 412.5,607.5 413.0,607.6 413.4,605.9 414.0,613.6 414.5,618.4 415.1,616.7 415.6,613.8 416.1,620.5 416.6,624.7 417.1,623.7 417.7,618.4 418.2,623.2 418.8,623.1 419.4,623.7 420.0,621.6 420.4,626.9 420.8,630.2 421.3,621.9 421.9,612.2 422.5,612.3 423.1,609.1 423.5,617.0 423.9,620.0 424.3,612.4 424.7,603.6 425.1,601.8 425.5,595.8 425.9,602.8 426.2,609.1 426.9,603.6 427.5,596.6 428.0,603.6 428.6,609.1 429.1,614.1 429.7,615.3 430.2,621.8 430.6,626.2 431.2,638.7 431.7,648.9 432.3,637.0 432.8,621.6 433.3,615.5 433.8,608.3 434.1,625.5 434.4,638.8 434.8,630.7 435.3,621.6 435.9,618.3 436.4,612.2 437.0,616.2 437.5,618.4 438.1,610.6 438.8,601.2 439.4,602.0 440.0,599.7 440.5,595.9 441.1,589.5 441.6,597.3 442.2,602.8 442.7,610.3 443.1,615.3 443.7,622.3 444.2,626.2 444.8,626.1 445.3,624.7 445.8,634.1 446.2,641.9 446.8,626.0 447.3,606.7 447.9,617.5 448.4,624.7 448.9,636.4 449.4,645.0 449.9,643.4 450.5,637.2 451.0,640.5 451.6,640.3 452.2,638.7 452.8,632.5 453.4,629.4 454.1,624.7 454.6,622.8 455.2,616.9 455.7,626.1 456.2,630.9 456.7,636.4 457.2,637.2 457.7,627.3 458.3,615.3 458.8,620.2 459.4,623.1 460.0,627.1 460.6,626.2 461.2,628.6 461.9,629.4 462.4,635.1 463.0,635.6 463.5,643.4 464.1,646.6 464.7,648.3 465.3,648.9 465.9,647.0 466.6,643.4 467.1,644.2 467.7,641.1 468.2,643.6 468.8,644.2 469.2,645.9 469.7,646.6 470.2,648.0 470.8,645.0 471.3,645.7 471.8,641.8 472.3,643.4 472.9,643.5 473.4,641.2 473.9,641.9 474.3,642.2 474.7,638.8" fill="none" stroke="#0000ff" stroke-width="0.90" stroke-opacity="0.42" stroke-linejoin="round" />
<text x="36.50" y="543.10" font-family="Liberation Serif" font-size="9.20" text-anchor="end" >1.04</text>
<text x="36.50" y="570.20" font-family="Liberation Serif" font-size="9.20" text-anchor="end" >1.03</text>
<text x="36.50" y="597.30" font-family="Liberation Serif" font-size="9.20" text-anchor="end" >1.02</text>
<text x="36.50" y="624.40" font-family="Liberation Serif" font-size="9.20" text-anchor="end" >1.01</text>
<text x="36.50" y="651.50" font-family="Liberation Serif" font-size="9.20" text-anchor="end" >1</text>
<text x="36.50" y="678.60" font-family="Liberation Serif" font-size="9.20" text-anchor="end" >0.99</text>
<text x="36.50" y="705.70" font-family="Liberation Serif" font-size="9.20" text-anchor="end" >0.98</text>
<text x="36.50" y="732.80" font-family="Liberation Serif" font-size="9.20" text-anchor="end" >0.97</text>
<text x="38.60" y="740.40" font-family="Liberation Serif" font-size="9.20" text-anchor="middle" >0</text>
<text x="96.54" y="740.40" font-family="Liberation Serif" font-size="9.20" text-anchor="middle" >10</text>
<text x="154.48" y="740.40" font-family="Liberation Serif" font-size="9.20" text-anchor="middle" >20</text>
<text x="212.41" y="740.40" font-family="Liberation Serif" font-size="9.20" text-anchor="middle" >30</text>
<text x="270.35" y="740.40" font-family="Liberation Serif" font-size="9.20" text-anchor="middle" >40</text>
<text x="328.29" y="740.40" font-family="Liberation Serif" font-size="9.20" text-anchor="middle" >50</text>
<text x="386.23" y="740.40" font-family="Liberation Serif" font-size="9.20" text-anchor="middle" >60</text>
<text x="444.16" y="740.40" font-family="Liberation Serif" font-size="9.20" text-anchor="middle" >70</text>
<text x="502.10" y="740.40" font-family="Liberation Serif" font-size="9.20" text-anchor="middle" >80</text>
<text x="277.10" y="758.00" font-family="Liberation Serif" font-size="13.80" text-anchor="middle" >Time (s)</text>
<text x="260.40" y="774.90" font-family="Liberation Serif" font-size="13.60" text-anchor="middle" >(c)</text>
<text x="0.00" y="0.00" font-family="Liberation Serif" font-size="13.80" text-anchor="middle" transform="translate(12.5,623.8) rotate(-90)">Scale factor</text>
</svg>
</body></html>
